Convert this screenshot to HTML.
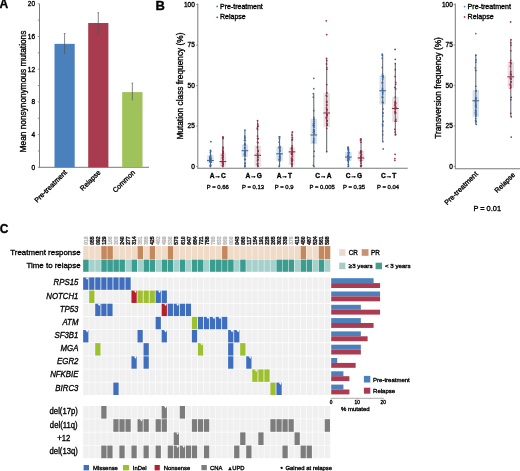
<!DOCTYPE html>
<html><head><meta charset="utf-8"><style>
html,body{margin:0;padding:0;background:#fff;width:520px;height:471px;overflow:hidden}
svg{display:block;font-family:"Liberation Sans", sans-serif}
text{stroke-width:0.33px;paint-order:stroke}
svg{filter:blur(0.3px)}
</style></head><body>
<svg width="520" height="471" viewBox="0 0 520 471" font-family='"Liberation Sans", sans-serif'>
<text x="-0.60" y="8.40" font-size="12" text-anchor="start" font-weight="bold" font-style="normal" fill="#000" stroke="#000" >A</text>
<line x1="39.50" y1="3.80" x2="39.50" y2="167.80" stroke="#7a7a7a" stroke-width="1" />
<line x1="39.50" y1="167.30" x2="149.00" y2="167.30" stroke="#7a7a7a" stroke-width="1" />
<line x1="37.80" y1="167.30" x2="39.50" y2="167.30" stroke="#7a7a7a" stroke-width="0.8" />
<text x="35.00" y="169.60" font-size="6.5" text-anchor="end" font-weight="normal" font-style="normal" fill="#000" stroke="#000" >0</text>
<line x1="37.80" y1="150.95" x2="39.50" y2="150.95" stroke="#7a7a7a" stroke-width="0.8" />
<line x1="37.80" y1="134.60" x2="39.50" y2="134.60" stroke="#7a7a7a" stroke-width="0.8" />
<text x="35.00" y="136.90" font-size="6.5" text-anchor="end" font-weight="normal" font-style="normal" fill="#000" stroke="#000" >4</text>
<line x1="37.80" y1="118.25" x2="39.50" y2="118.25" stroke="#7a7a7a" stroke-width="0.8" />
<line x1="37.80" y1="101.90" x2="39.50" y2="101.90" stroke="#7a7a7a" stroke-width="0.8" />
<text x="35.00" y="104.20" font-size="6.5" text-anchor="end" font-weight="normal" font-style="normal" fill="#000" stroke="#000" >8</text>
<line x1="37.80" y1="85.55" x2="39.50" y2="85.55" stroke="#7a7a7a" stroke-width="0.8" />
<line x1="37.80" y1="69.20" x2="39.50" y2="69.20" stroke="#7a7a7a" stroke-width="0.8" />
<text x="35.00" y="71.50" font-size="6.5" text-anchor="end" font-weight="normal" font-style="normal" fill="#000" stroke="#000" >12</text>
<line x1="37.80" y1="52.85" x2="39.50" y2="52.85" stroke="#7a7a7a" stroke-width="0.8" />
<line x1="37.80" y1="36.50" x2="39.50" y2="36.50" stroke="#7a7a7a" stroke-width="0.8" />
<text x="35.00" y="38.80" font-size="6.5" text-anchor="end" font-weight="normal" font-style="normal" fill="#000" stroke="#000" >16</text>
<line x1="37.80" y1="20.15" x2="39.50" y2="20.15" stroke="#7a7a7a" stroke-width="0.8" />
<line x1="37.80" y1="3.80" x2="39.50" y2="3.80" stroke="#7a7a7a" stroke-width="0.8" />
<text x="35.00" y="6.10" font-size="6.5" text-anchor="end" font-weight="normal" font-style="normal" fill="#000" stroke="#000" >20</text>
<text transform="translate(26.2,91.5) rotate(-90)" font-size="8.3" text-anchor="middle" stroke="#000">Mean nonsynonymous mutations</text>
<rect x="54.50" y="43.86" width="20.20" height="123.44" fill="#4a80bb" />
<line x1="64.60" y1="33.50" x2="64.60" y2="54.20" stroke="#555" stroke-width="0.7" />
<line x1="63.80" y1="33.50" x2="65.40" y2="33.50" stroke="#555" stroke-width="0.7" />
<rect x="88.20" y="23.01" width="20.20" height="144.29" fill="#a83c4e" />
<line x1="98.30" y1="12.70" x2="98.30" y2="34.20" stroke="#555" stroke-width="0.7" />
<line x1="97.50" y1="12.70" x2="99.10" y2="12.70" stroke="#555" stroke-width="0.7" />
<rect x="122.20" y="92.09" width="20.30" height="75.21" fill="#9fc25a" />
<line x1="132.35" y1="83.20" x2="132.35" y2="100.40" stroke="#555" stroke-width="0.7" />
<line x1="131.55" y1="83.20" x2="133.15" y2="83.20" stroke="#555" stroke-width="0.7" />
<text transform="translate(67.4,172.8) rotate(-45)" font-size="7" text-anchor="end" stroke="#000">Pre-treatment</text>
<text transform="translate(101,173.0) rotate(-45)" font-size="7" text-anchor="end" stroke="#000">Relapse</text>
<text transform="translate(135.5,173.0) rotate(-45)" font-size="7" text-anchor="end" stroke="#000">Common</text>
<text x="155.60" y="9.90" font-size="13" text-anchor="start" font-weight="bold" font-style="normal" fill="#000" stroke="#000" >B</text>
<line x1="197.80" y1="3.50" x2="197.80" y2="168.80" stroke="#7a7a7a" stroke-width="1" />
<line x1="197.80" y1="168.30" x2="407.70" y2="168.30" stroke="#7a7a7a" stroke-width="1.1" />
<line x1="196.10" y1="166.60" x2="197.80" y2="166.60" stroke="#7a7a7a" stroke-width="0.8" />
<text x="194.80" y="168.90" font-size="6.5" text-anchor="end" font-weight="normal" font-style="normal" fill="#000" stroke="#000" >0</text>
<line x1="196.10" y1="126.10" x2="197.80" y2="126.10" stroke="#7a7a7a" stroke-width="0.8" />
<text x="194.80" y="128.40" font-size="6.5" text-anchor="end" font-weight="normal" font-style="normal" fill="#000" stroke="#000" >25</text>
<line x1="196.10" y1="85.60" x2="197.80" y2="85.60" stroke="#7a7a7a" stroke-width="0.8" />
<text x="194.80" y="87.90" font-size="6.5" text-anchor="end" font-weight="normal" font-style="normal" fill="#000" stroke="#000" >50</text>
<line x1="196.10" y1="45.10" x2="197.80" y2="45.10" stroke="#7a7a7a" stroke-width="0.8" />
<text x="194.80" y="47.40" font-size="6.5" text-anchor="end" font-weight="normal" font-style="normal" fill="#000" stroke="#000" >75</text>
<line x1="196.10" y1="4.60" x2="197.80" y2="4.60" stroke="#7a7a7a" stroke-width="0.8" />
<text x="194.80" y="6.90" font-size="6.5" text-anchor="end" font-weight="normal" font-style="normal" fill="#000" stroke="#000" >100</text>
<text transform="translate(183.0,86.1) rotate(-90)" font-size="8.3" text-anchor="middle" stroke="#000">Mutation class frequency (%)</text>
<circle cx="217.2" cy="6.4" r="0.9" fill="#4a80bb"/>
<text x="220.00" y="9.30" font-size="7.0" text-anchor="start" font-weight="normal" font-style="normal" fill="#000" stroke="#000" >Pre-treatment</text>
<circle cx="217.2" cy="17.3" r="0.9" fill="#a83c4e"/>
<text x="220.00" y="19.30" font-size="7.0" text-anchor="start" font-weight="normal" font-style="normal" fill="#000" stroke="#000" >Relapse</text>
<rect x="207.20" y="155.26" width="6.40" height="7.61" fill="#d6e1ee" />
<line x1="210.40" y1="150.24" x2="210.40" y2="166.60" stroke="#5a5f6a" stroke-width="1.0" />
<circle cx="210.85" cy="141.65" r="0.85" fill="#3c68a0"/>
<circle cx="210.40" cy="150.24" r="0.85" fill="#3c68a0"/>
<circle cx="210.40" cy="166.60" r="0.85" fill="#3c68a0"/>
<circle cx="210.60" cy="161.73" r="0.85" fill="#3c68a0"/>
<circle cx="210.40" cy="165.41" r="0.85" fill="#3c68a0"/>
<circle cx="210.40" cy="160.62" r="0.85" fill="#3c68a0"/>
<circle cx="210.40" cy="159.01" r="0.85" fill="#3c68a0"/>
<circle cx="210.40" cy="159.57" r="0.85" fill="#3c68a0"/>
<circle cx="210.85" cy="162.18" r="0.85" fill="#3c68a0"/>
<circle cx="210.40" cy="156.58" r="0.85" fill="#3c68a0"/>
<circle cx="209.95" cy="161.17" r="0.85" fill="#3c68a0"/>
<circle cx="210.85" cy="151.09" r="0.85" fill="#3c68a0"/>
<circle cx="209.95" cy="160.11" r="0.85" fill="#3c68a0"/>
<circle cx="210.40" cy="165.84" r="0.85" fill="#3c68a0"/>
<circle cx="210.40" cy="161.86" r="0.85" fill="#3c68a0"/>
<circle cx="210.60" cy="161.98" r="0.85" fill="#3c68a0"/>
<circle cx="210.60" cy="156.66" r="0.85" fill="#3c68a0"/>
<circle cx="209.95" cy="158.45" r="0.85" fill="#3c68a0"/>
<circle cx="209.95" cy="160.51" r="0.85" fill="#3c68a0"/>
<circle cx="210.60" cy="165.57" r="0.85" fill="#3c68a0"/>
<circle cx="210.60" cy="161.31" r="0.85" fill="#3c68a0"/>
<circle cx="210.40" cy="159.60" r="0.85" fill="#3c68a0"/>
<circle cx="210.60" cy="158.42" r="0.85" fill="#3c68a0"/>
<circle cx="210.40" cy="160.59" r="0.85" fill="#3c68a0"/>
<circle cx="210.60" cy="155.16" r="0.85" fill="#3c68a0"/>
<circle cx="210.85" cy="158.50" r="0.85" fill="#3c68a0"/>
<circle cx="210.40" cy="152.28" r="0.85" fill="#3c68a0"/>
<circle cx="210.40" cy="161.89" r="0.85" fill="#3c68a0"/>
<circle cx="210.60" cy="164.67" r="0.85" fill="#3c68a0"/>
<circle cx="210.40" cy="157.11" r="0.85" fill="#3c68a0"/>
<circle cx="210.60" cy="159.15" r="0.85" fill="#3c68a0"/>
<circle cx="210.40" cy="157.79" r="0.85" fill="#3c68a0"/>
<circle cx="209.95" cy="157.22" r="0.85" fill="#3c68a0"/>
<line x1="207.00" y1="160.44" x2="213.80" y2="160.44" stroke="#44648e" stroke-width="1.0" />
<rect x="219.70" y="153.32" width="6.40" height="13.28" fill="#e9e0e2" />
<line x1="222.90" y1="136.95" x2="222.90" y2="166.60" stroke="#5a5f6a" stroke-width="1.0" />
<circle cx="222.90" cy="136.95" r="0.85" fill="#952c46"/>
<circle cx="222.90" cy="166.60" r="0.85" fill="#952c46"/>
<circle cx="222.90" cy="156.06" r="0.85" fill="#952c46"/>
<circle cx="222.90" cy="151.96" r="0.85" fill="#952c46"/>
<circle cx="222.45" cy="162.78" r="0.85" fill="#952c46"/>
<circle cx="222.45" cy="154.80" r="0.85" fill="#952c46"/>
<circle cx="223.35" cy="151.88" r="0.85" fill="#952c46"/>
<circle cx="222.90" cy="161.26" r="0.85" fill="#952c46"/>
<circle cx="222.90" cy="164.78" r="0.85" fill="#952c46"/>
<circle cx="222.90" cy="159.29" r="0.85" fill="#952c46"/>
<circle cx="222.90" cy="137.36" r="0.85" fill="#952c46"/>
<circle cx="222.90" cy="155.32" r="0.85" fill="#952c46"/>
<circle cx="222.45" cy="165.50" r="0.85" fill="#952c46"/>
<circle cx="222.70" cy="157.85" r="0.85" fill="#952c46"/>
<circle cx="222.45" cy="155.56" r="0.85" fill="#952c46"/>
<circle cx="223.10" cy="162.85" r="0.85" fill="#952c46"/>
<circle cx="222.90" cy="159.50" r="0.85" fill="#952c46"/>
<circle cx="223.10" cy="157.15" r="0.85" fill="#952c46"/>
<circle cx="222.90" cy="155.19" r="0.85" fill="#952c46"/>
<circle cx="222.90" cy="147.18" r="0.85" fill="#952c46"/>
<circle cx="223.35" cy="153.06" r="0.85" fill="#952c46"/>
<circle cx="223.10" cy="138.38" r="0.85" fill="#952c46"/>
<circle cx="222.70" cy="150.02" r="0.85" fill="#952c46"/>
<circle cx="222.90" cy="161.36" r="0.85" fill="#952c46"/>
<circle cx="222.45" cy="161.28" r="0.85" fill="#952c46"/>
<circle cx="222.70" cy="153.52" r="0.85" fill="#952c46"/>
<circle cx="222.90" cy="165.14" r="0.85" fill="#952c46"/>
<circle cx="222.90" cy="163.56" r="0.85" fill="#952c46"/>
<circle cx="222.70" cy="150.69" r="0.85" fill="#952c46"/>
<circle cx="223.10" cy="148.41" r="0.85" fill="#952c46"/>
<circle cx="222.90" cy="163.84" r="0.85" fill="#952c46"/>
<circle cx="222.45" cy="158.17" r="0.85" fill="#952c46"/>
<line x1="219.50" y1="161.58" x2="226.30" y2="161.58" stroke="#862a40" stroke-width="1.0" />
<rect x="241.70" y="144.57" width="6.40" height="12.47" fill="#d6e1ee" />
<line x1="244.90" y1="130.15" x2="244.90" y2="166.60" stroke="#5a5f6a" stroke-width="1.0" />
<circle cx="244.90" cy="130.15" r="0.85" fill="#3c68a0"/>
<circle cx="244.90" cy="166.60" r="0.85" fill="#3c68a0"/>
<circle cx="245.35" cy="155.73" r="0.85" fill="#3c68a0"/>
<circle cx="245.10" cy="163.28" r="0.85" fill="#3c68a0"/>
<circle cx="244.70" cy="147.70" r="0.85" fill="#3c68a0"/>
<circle cx="244.90" cy="153.63" r="0.85" fill="#3c68a0"/>
<circle cx="245.35" cy="150.29" r="0.85" fill="#3c68a0"/>
<circle cx="244.90" cy="143.40" r="0.85" fill="#3c68a0"/>
<circle cx="244.90" cy="137.86" r="0.85" fill="#3c68a0"/>
<circle cx="245.10" cy="159.49" r="0.85" fill="#3c68a0"/>
<circle cx="244.90" cy="152.04" r="0.85" fill="#3c68a0"/>
<circle cx="244.70" cy="159.31" r="0.85" fill="#3c68a0"/>
<circle cx="244.90" cy="147.92" r="0.85" fill="#3c68a0"/>
<circle cx="244.90" cy="137.80" r="0.85" fill="#3c68a0"/>
<circle cx="244.70" cy="154.63" r="0.85" fill="#3c68a0"/>
<circle cx="244.45" cy="154.05" r="0.85" fill="#3c68a0"/>
<circle cx="244.45" cy="140.24" r="0.85" fill="#3c68a0"/>
<circle cx="245.35" cy="144.89" r="0.85" fill="#3c68a0"/>
<circle cx="245.10" cy="155.77" r="0.85" fill="#3c68a0"/>
<circle cx="245.10" cy="152.83" r="0.85" fill="#3c68a0"/>
<circle cx="244.45" cy="144.75" r="0.85" fill="#3c68a0"/>
<circle cx="244.90" cy="166.53" r="0.85" fill="#3c68a0"/>
<circle cx="245.10" cy="154.06" r="0.85" fill="#3c68a0"/>
<circle cx="244.70" cy="136.18" r="0.85" fill="#3c68a0"/>
<circle cx="244.90" cy="152.20" r="0.85" fill="#3c68a0"/>
<circle cx="245.35" cy="159.33" r="0.85" fill="#3c68a0"/>
<circle cx="244.70" cy="150.78" r="0.85" fill="#3c68a0"/>
<circle cx="245.35" cy="163.44" r="0.85" fill="#3c68a0"/>
<circle cx="245.35" cy="140.29" r="0.85" fill="#3c68a0"/>
<circle cx="244.70" cy="147.77" r="0.85" fill="#3c68a0"/>
<circle cx="244.45" cy="155.06" r="0.85" fill="#3c68a0"/>
<circle cx="244.90" cy="165.60" r="0.85" fill="#3c68a0"/>
<line x1="241.50" y1="150.72" x2="248.30" y2="150.72" stroke="#44648e" stroke-width="1.0" />
<rect x="254.50" y="145.54" width="6.40" height="21.06" fill="#e9e0e2" />
<line x1="257.70" y1="120.59" x2="257.70" y2="166.60" stroke="#5a5f6a" stroke-width="1.0" />
<circle cx="257.50" cy="120.59" r="0.85" fill="#952c46"/>
<circle cx="257.90" cy="166.60" r="0.85" fill="#952c46"/>
<circle cx="257.70" cy="156.05" r="0.85" fill="#952c46"/>
<circle cx="258.15" cy="151.60" r="0.85" fill="#952c46"/>
<circle cx="257.25" cy="128.22" r="0.85" fill="#952c46"/>
<circle cx="258.15" cy="151.02" r="0.85" fill="#952c46"/>
<circle cx="257.50" cy="136.12" r="0.85" fill="#952c46"/>
<circle cx="257.90" cy="142.82" r="0.85" fill="#952c46"/>
<circle cx="257.90" cy="126.20" r="0.85" fill="#952c46"/>
<circle cx="257.90" cy="163.40" r="0.85" fill="#952c46"/>
<circle cx="257.70" cy="126.44" r="0.85" fill="#952c46"/>
<circle cx="257.50" cy="138.60" r="0.85" fill="#952c46"/>
<circle cx="257.70" cy="159.71" r="0.85" fill="#952c46"/>
<circle cx="257.50" cy="153.56" r="0.85" fill="#952c46"/>
<circle cx="257.70" cy="165.30" r="0.85" fill="#952c46"/>
<circle cx="257.50" cy="142.18" r="0.85" fill="#952c46"/>
<circle cx="257.90" cy="150.25" r="0.85" fill="#952c46"/>
<circle cx="257.25" cy="163.99" r="0.85" fill="#952c46"/>
<circle cx="257.70" cy="165.71" r="0.85" fill="#952c46"/>
<circle cx="257.70" cy="157.08" r="0.85" fill="#952c46"/>
<circle cx="257.50" cy="147.77" r="0.85" fill="#952c46"/>
<circle cx="257.90" cy="159.74" r="0.85" fill="#952c46"/>
<circle cx="258.15" cy="138.71" r="0.85" fill="#952c46"/>
<circle cx="257.50" cy="160.76" r="0.85" fill="#952c46"/>
<circle cx="257.50" cy="129.45" r="0.85" fill="#952c46"/>
<circle cx="257.90" cy="155.21" r="0.85" fill="#952c46"/>
<circle cx="257.70" cy="126.30" r="0.85" fill="#952c46"/>
<circle cx="257.70" cy="124.14" r="0.85" fill="#952c46"/>
<circle cx="257.70" cy="157.28" r="0.85" fill="#952c46"/>
<circle cx="257.70" cy="157.83" r="0.85" fill="#952c46"/>
<circle cx="257.70" cy="159.95" r="0.85" fill="#952c46"/>
<circle cx="257.50" cy="146.89" r="0.85" fill="#952c46"/>
<line x1="254.30" y1="155.26" x2="261.10" y2="155.26" stroke="#862a40" stroke-width="1.0" />
<rect x="276.40" y="146.51" width="6.40" height="14.42" fill="#d6e1ee" />
<line x1="279.60" y1="136.79" x2="279.60" y2="166.60" stroke="#5a5f6a" stroke-width="1.0" />
<circle cx="279.15" cy="136.79" r="0.85" fill="#3c68a0"/>
<circle cx="279.15" cy="166.60" r="0.85" fill="#3c68a0"/>
<circle cx="279.15" cy="159.60" r="0.85" fill="#3c68a0"/>
<circle cx="279.80" cy="156.06" r="0.85" fill="#3c68a0"/>
<circle cx="279.60" cy="150.79" r="0.85" fill="#3c68a0"/>
<circle cx="279.60" cy="153.47" r="0.85" fill="#3c68a0"/>
<circle cx="279.40" cy="147.08" r="0.85" fill="#3c68a0"/>
<circle cx="279.60" cy="147.69" r="0.85" fill="#3c68a0"/>
<circle cx="279.60" cy="148.29" r="0.85" fill="#3c68a0"/>
<circle cx="279.40" cy="157.01" r="0.85" fill="#3c68a0"/>
<circle cx="279.60" cy="161.19" r="0.85" fill="#3c68a0"/>
<circle cx="279.15" cy="142.16" r="0.85" fill="#3c68a0"/>
<circle cx="279.80" cy="146.45" r="0.85" fill="#3c68a0"/>
<circle cx="280.05" cy="154.50" r="0.85" fill="#3c68a0"/>
<circle cx="279.80" cy="151.26" r="0.85" fill="#3c68a0"/>
<circle cx="279.60" cy="156.21" r="0.85" fill="#3c68a0"/>
<circle cx="279.80" cy="149.40" r="0.85" fill="#3c68a0"/>
<circle cx="279.60" cy="148.02" r="0.85" fill="#3c68a0"/>
<circle cx="279.60" cy="160.69" r="0.85" fill="#3c68a0"/>
<circle cx="280.05" cy="157.17" r="0.85" fill="#3c68a0"/>
<circle cx="279.60" cy="159.97" r="0.85" fill="#3c68a0"/>
<circle cx="279.60" cy="159.18" r="0.85" fill="#3c68a0"/>
<circle cx="279.60" cy="146.59" r="0.85" fill="#3c68a0"/>
<circle cx="279.80" cy="147.73" r="0.85" fill="#3c68a0"/>
<circle cx="279.40" cy="165.31" r="0.85" fill="#3c68a0"/>
<circle cx="279.40" cy="138.64" r="0.85" fill="#3c68a0"/>
<circle cx="279.60" cy="158.79" r="0.85" fill="#3c68a0"/>
<circle cx="279.40" cy="147.49" r="0.85" fill="#3c68a0"/>
<circle cx="280.05" cy="150.77" r="0.85" fill="#3c68a0"/>
<circle cx="279.80" cy="154.50" r="0.85" fill="#3c68a0"/>
<circle cx="279.80" cy="158.54" r="0.85" fill="#3c68a0"/>
<circle cx="279.80" cy="136.96" r="0.85" fill="#3c68a0"/>
<line x1="276.20" y1="153.80" x2="283.00" y2="153.80" stroke="#44648e" stroke-width="1.0" />
<rect x="288.80" y="147.48" width="6.40" height="17.33" fill="#e9e0e2" />
<line x1="292.00" y1="131.93" x2="292.00" y2="166.60" stroke="#5a5f6a" stroke-width="1.0" />
<circle cx="292.45" cy="131.93" r="0.85" fill="#952c46"/>
<circle cx="292.00" cy="166.60" r="0.85" fill="#952c46"/>
<circle cx="292.00" cy="147.67" r="0.85" fill="#952c46"/>
<circle cx="292.45" cy="137.58" r="0.85" fill="#952c46"/>
<circle cx="292.45" cy="153.98" r="0.85" fill="#952c46"/>
<circle cx="292.45" cy="151.67" r="0.85" fill="#952c46"/>
<circle cx="291.55" cy="153.29" r="0.85" fill="#952c46"/>
<circle cx="292.45" cy="156.05" r="0.85" fill="#952c46"/>
<circle cx="292.20" cy="145.84" r="0.85" fill="#952c46"/>
<circle cx="292.00" cy="165.03" r="0.85" fill="#952c46"/>
<circle cx="292.45" cy="160.15" r="0.85" fill="#952c46"/>
<circle cx="292.20" cy="158.51" r="0.85" fill="#952c46"/>
<circle cx="292.20" cy="147.75" r="0.85" fill="#952c46"/>
<circle cx="292.20" cy="164.22" r="0.85" fill="#952c46"/>
<circle cx="292.20" cy="159.05" r="0.85" fill="#952c46"/>
<circle cx="291.80" cy="159.01" r="0.85" fill="#952c46"/>
<circle cx="291.55" cy="159.98" r="0.85" fill="#952c46"/>
<circle cx="291.55" cy="158.00" r="0.85" fill="#952c46"/>
<circle cx="291.55" cy="163.45" r="0.85" fill="#952c46"/>
<circle cx="291.80" cy="161.61" r="0.85" fill="#952c46"/>
<circle cx="292.20" cy="152.94" r="0.85" fill="#952c46"/>
<circle cx="292.00" cy="153.90" r="0.85" fill="#952c46"/>
<circle cx="291.55" cy="148.22" r="0.85" fill="#952c46"/>
<circle cx="292.00" cy="161.22" r="0.85" fill="#952c46"/>
<circle cx="292.45" cy="139.42" r="0.85" fill="#952c46"/>
<circle cx="292.00" cy="140.10" r="0.85" fill="#952c46"/>
<circle cx="292.00" cy="149.47" r="0.85" fill="#952c46"/>
<circle cx="291.55" cy="154.09" r="0.85" fill="#952c46"/>
<circle cx="292.20" cy="150.52" r="0.85" fill="#952c46"/>
<circle cx="291.55" cy="148.82" r="0.85" fill="#952c46"/>
<circle cx="292.20" cy="152.67" r="0.85" fill="#952c46"/>
<circle cx="292.00" cy="135.06" r="0.85" fill="#952c46"/>
<line x1="288.60" y1="151.86" x2="295.40" y2="151.86" stroke="#862a40" stroke-width="1.0" />
<rect x="310.60" y="118.97" width="6.40" height="24.95" fill="#d6e1ee" />
<line x1="313.80" y1="93.70" x2="313.80" y2="166.60" stroke="#5a5f6a" stroke-width="1.0" />
<circle cx="313.80" cy="78.31" r="0.85" fill="#3c68a0"/>
<circle cx="313.80" cy="88.68" r="0.85" fill="#3c68a0"/>
<circle cx="313.35" cy="93.70" r="0.85" fill="#3c68a0"/>
<circle cx="314.00" cy="166.60" r="0.85" fill="#3c68a0"/>
<circle cx="313.80" cy="130.93" r="0.85" fill="#3c68a0"/>
<circle cx="313.60" cy="124.02" r="0.85" fill="#3c68a0"/>
<circle cx="313.80" cy="129.93" r="0.85" fill="#3c68a0"/>
<circle cx="313.80" cy="118.54" r="0.85" fill="#3c68a0"/>
<circle cx="313.80" cy="125.54" r="0.85" fill="#3c68a0"/>
<circle cx="313.35" cy="142.06" r="0.85" fill="#3c68a0"/>
<circle cx="313.60" cy="125.72" r="0.85" fill="#3c68a0"/>
<circle cx="313.35" cy="125.46" r="0.85" fill="#3c68a0"/>
<circle cx="313.80" cy="130.59" r="0.85" fill="#3c68a0"/>
<circle cx="314.00" cy="131.97" r="0.85" fill="#3c68a0"/>
<circle cx="313.80" cy="110.69" r="0.85" fill="#3c68a0"/>
<circle cx="313.80" cy="119.74" r="0.85" fill="#3c68a0"/>
<circle cx="313.80" cy="140.24" r="0.85" fill="#3c68a0"/>
<circle cx="314.00" cy="125.38" r="0.85" fill="#3c68a0"/>
<circle cx="313.60" cy="129.76" r="0.85" fill="#3c68a0"/>
<circle cx="313.80" cy="142.41" r="0.85" fill="#3c68a0"/>
<circle cx="313.80" cy="127.15" r="0.85" fill="#3c68a0"/>
<circle cx="313.80" cy="117.34" r="0.85" fill="#3c68a0"/>
<circle cx="313.80" cy="131.03" r="0.85" fill="#3c68a0"/>
<circle cx="313.35" cy="132.29" r="0.85" fill="#3c68a0"/>
<circle cx="314.25" cy="121.62" r="0.85" fill="#3c68a0"/>
<circle cx="313.80" cy="119.52" r="0.85" fill="#3c68a0"/>
<circle cx="313.35" cy="165.32" r="0.85" fill="#3c68a0"/>
<circle cx="313.80" cy="123.47" r="0.85" fill="#3c68a0"/>
<circle cx="314.25" cy="133.84" r="0.85" fill="#3c68a0"/>
<circle cx="313.80" cy="138.68" r="0.85" fill="#3c68a0"/>
<circle cx="314.25" cy="151.24" r="0.85" fill="#3c68a0"/>
<circle cx="313.80" cy="156.27" r="0.85" fill="#3c68a0"/>
<circle cx="313.35" cy="97.15" r="0.85" fill="#3c68a0"/>
<circle cx="313.60" cy="123.46" r="0.85" fill="#3c68a0"/>
<line x1="310.40" y1="135.01" x2="317.20" y2="135.01" stroke="#44648e" stroke-width="1.0" />
<rect x="323.50" y="93.05" width="6.40" height="34.02" fill="#e9e0e2" />
<line x1="326.70" y1="58.38" x2="326.70" y2="151.70" stroke="#5a5f6a" stroke-width="1.0" />
<circle cx="326.25" cy="20.80" r="0.85" fill="#952c46"/>
<circle cx="326.70" cy="34.57" r="0.85" fill="#952c46"/>
<circle cx="326.50" cy="58.38" r="0.85" fill="#952c46"/>
<circle cx="326.70" cy="151.70" r="0.85" fill="#952c46"/>
<circle cx="326.70" cy="67.57" r="0.85" fill="#952c46"/>
<circle cx="327.15" cy="114.41" r="0.85" fill="#952c46"/>
<circle cx="326.70" cy="93.09" r="0.85" fill="#952c46"/>
<circle cx="326.50" cy="118.04" r="0.85" fill="#952c46"/>
<circle cx="326.25" cy="117.71" r="0.85" fill="#952c46"/>
<circle cx="326.90" cy="123.61" r="0.85" fill="#952c46"/>
<circle cx="327.15" cy="125.04" r="0.85" fill="#952c46"/>
<circle cx="326.70" cy="128.43" r="0.85" fill="#952c46"/>
<circle cx="326.70" cy="109.69" r="0.85" fill="#952c46"/>
<circle cx="326.70" cy="114.37" r="0.85" fill="#952c46"/>
<circle cx="326.90" cy="69.18" r="0.85" fill="#952c46"/>
<circle cx="326.70" cy="92.83" r="0.85" fill="#952c46"/>
<circle cx="326.50" cy="63.92" r="0.85" fill="#952c46"/>
<circle cx="326.70" cy="84.55" r="0.85" fill="#952c46"/>
<circle cx="326.70" cy="102.16" r="0.85" fill="#952c46"/>
<circle cx="326.70" cy="101.47" r="0.85" fill="#952c46"/>
<circle cx="327.15" cy="124.99" r="0.85" fill="#952c46"/>
<circle cx="326.25" cy="95.54" r="0.85" fill="#952c46"/>
<circle cx="326.70" cy="111.01" r="0.85" fill="#952c46"/>
<circle cx="326.70" cy="116.94" r="0.85" fill="#952c46"/>
<circle cx="326.70" cy="60.60" r="0.85" fill="#952c46"/>
<circle cx="326.70" cy="104.76" r="0.85" fill="#952c46"/>
<circle cx="326.50" cy="108.11" r="0.85" fill="#952c46"/>
<circle cx="326.90" cy="121.38" r="0.85" fill="#952c46"/>
<circle cx="326.70" cy="120.00" r="0.85" fill="#952c46"/>
<circle cx="326.70" cy="105.31" r="0.85" fill="#952c46"/>
<circle cx="326.90" cy="96.24" r="0.85" fill="#952c46"/>
<circle cx="327.15" cy="109.71" r="0.85" fill="#952c46"/>
<circle cx="327.15" cy="120.53" r="0.85" fill="#952c46"/>
<circle cx="327.15" cy="115.44" r="0.85" fill="#952c46"/>
<line x1="323.30" y1="112.98" x2="330.10" y2="112.98" stroke="#862a40" stroke-width="1.0" />
<rect x="345.20" y="152.02" width="6.40" height="8.91" fill="#d6e1ee" />
<line x1="348.40" y1="147.00" x2="348.40" y2="166.60" stroke="#5a5f6a" stroke-width="1.0" />
<circle cx="347.95" cy="147.00" r="0.85" fill="#3c68a0"/>
<circle cx="348.20" cy="166.60" r="0.85" fill="#3c68a0"/>
<circle cx="348.40" cy="158.52" r="0.85" fill="#3c68a0"/>
<circle cx="348.60" cy="157.37" r="0.85" fill="#3c68a0"/>
<circle cx="348.60" cy="152.43" r="0.85" fill="#3c68a0"/>
<circle cx="348.40" cy="149.49" r="0.85" fill="#3c68a0"/>
<circle cx="347.95" cy="160.64" r="0.85" fill="#3c68a0"/>
<circle cx="348.40" cy="149.04" r="0.85" fill="#3c68a0"/>
<circle cx="348.20" cy="155.70" r="0.85" fill="#3c68a0"/>
<circle cx="348.60" cy="157.44" r="0.85" fill="#3c68a0"/>
<circle cx="348.40" cy="150.42" r="0.85" fill="#3c68a0"/>
<circle cx="348.40" cy="147.54" r="0.85" fill="#3c68a0"/>
<circle cx="348.20" cy="159.96" r="0.85" fill="#3c68a0"/>
<circle cx="348.40" cy="156.28" r="0.85" fill="#3c68a0"/>
<circle cx="347.95" cy="148.14" r="0.85" fill="#3c68a0"/>
<circle cx="348.60" cy="153.91" r="0.85" fill="#3c68a0"/>
<circle cx="348.40" cy="157.64" r="0.85" fill="#3c68a0"/>
<circle cx="348.60" cy="165.82" r="0.85" fill="#3c68a0"/>
<circle cx="348.40" cy="162.04" r="0.85" fill="#3c68a0"/>
<circle cx="348.40" cy="153.95" r="0.85" fill="#3c68a0"/>
<circle cx="348.60" cy="159.79" r="0.85" fill="#3c68a0"/>
<circle cx="348.40" cy="155.26" r="0.85" fill="#3c68a0"/>
<circle cx="348.20" cy="164.40" r="0.85" fill="#3c68a0"/>
<circle cx="347.95" cy="156.26" r="0.85" fill="#3c68a0"/>
<circle cx="348.85" cy="158.99" r="0.85" fill="#3c68a0"/>
<circle cx="348.40" cy="155.57" r="0.85" fill="#3c68a0"/>
<circle cx="348.60" cy="158.24" r="0.85" fill="#3c68a0"/>
<circle cx="348.85" cy="152.39" r="0.85" fill="#3c68a0"/>
<circle cx="348.40" cy="149.28" r="0.85" fill="#3c68a0"/>
<circle cx="347.95" cy="158.84" r="0.85" fill="#3c68a0"/>
<circle cx="348.20" cy="152.37" r="0.85" fill="#3c68a0"/>
<circle cx="348.40" cy="160.57" r="0.85" fill="#3c68a0"/>
<line x1="345.00" y1="157.04" x2="351.80" y2="157.04" stroke="#44648e" stroke-width="1.0" />
<rect x="357.80" y="150.72" width="6.40" height="10.21" fill="#e9e0e2" />
<line x1="361.00" y1="139.06" x2="361.00" y2="166.60" stroke="#5a5f6a" stroke-width="1.0" />
<circle cx="360.55" cy="139.06" r="0.85" fill="#952c46"/>
<circle cx="361.00" cy="166.60" r="0.85" fill="#952c46"/>
<circle cx="360.55" cy="158.02" r="0.85" fill="#952c46"/>
<circle cx="361.45" cy="160.24" r="0.85" fill="#952c46"/>
<circle cx="360.55" cy="153.17" r="0.85" fill="#952c46"/>
<circle cx="361.00" cy="151.21" r="0.85" fill="#952c46"/>
<circle cx="360.80" cy="159.02" r="0.85" fill="#952c46"/>
<circle cx="361.20" cy="156.67" r="0.85" fill="#952c46"/>
<circle cx="360.55" cy="140.47" r="0.85" fill="#952c46"/>
<circle cx="361.00" cy="156.91" r="0.85" fill="#952c46"/>
<circle cx="361.00" cy="150.99" r="0.85" fill="#952c46"/>
<circle cx="361.00" cy="160.40" r="0.85" fill="#952c46"/>
<circle cx="361.00" cy="156.92" r="0.85" fill="#952c46"/>
<circle cx="361.00" cy="142.27" r="0.85" fill="#952c46"/>
<circle cx="361.00" cy="139.13" r="0.85" fill="#952c46"/>
<circle cx="360.55" cy="157.53" r="0.85" fill="#952c46"/>
<circle cx="361.00" cy="151.38" r="0.85" fill="#952c46"/>
<circle cx="361.20" cy="165.72" r="0.85" fill="#952c46"/>
<circle cx="361.20" cy="156.17" r="0.85" fill="#952c46"/>
<circle cx="361.20" cy="157.54" r="0.85" fill="#952c46"/>
<circle cx="361.00" cy="160.90" r="0.85" fill="#952c46"/>
<circle cx="361.00" cy="157.34" r="0.85" fill="#952c46"/>
<circle cx="361.00" cy="163.19" r="0.85" fill="#952c46"/>
<circle cx="360.55" cy="160.89" r="0.85" fill="#952c46"/>
<circle cx="361.20" cy="152.55" r="0.85" fill="#952c46"/>
<circle cx="361.45" cy="154.69" r="0.85" fill="#952c46"/>
<circle cx="361.00" cy="156.10" r="0.85" fill="#952c46"/>
<circle cx="361.45" cy="151.55" r="0.85" fill="#952c46"/>
<circle cx="361.20" cy="157.21" r="0.85" fill="#952c46"/>
<circle cx="360.55" cy="165.77" r="0.85" fill="#952c46"/>
<circle cx="360.55" cy="152.64" r="0.85" fill="#952c46"/>
<circle cx="361.45" cy="165.48" r="0.85" fill="#952c46"/>
<line x1="357.60" y1="158.01" x2="364.40" y2="158.01" stroke="#862a40" stroke-width="1.0" />
<rect x="379.50" y="75.56" width="6.40" height="28.84" fill="#d6e1ee" />
<line x1="382.70" y1="54.17" x2="382.70" y2="141.65" stroke="#5a5f6a" stroke-width="1.0" />
<circle cx="383.15" cy="148.94" r="0.85" fill="#3c68a0"/>
<circle cx="382.25" cy="54.17" r="0.85" fill="#3c68a0"/>
<circle cx="382.90" cy="141.65" r="0.85" fill="#3c68a0"/>
<circle cx="382.70" cy="90.69" r="0.85" fill="#3c68a0"/>
<circle cx="382.25" cy="58.20" r="0.85" fill="#3c68a0"/>
<circle cx="382.25" cy="97.15" r="0.85" fill="#3c68a0"/>
<circle cx="382.25" cy="90.16" r="0.85" fill="#3c68a0"/>
<circle cx="382.70" cy="125.65" r="0.85" fill="#3c68a0"/>
<circle cx="383.15" cy="77.05" r="0.85" fill="#3c68a0"/>
<circle cx="382.50" cy="74.05" r="0.85" fill="#3c68a0"/>
<circle cx="383.15" cy="112.98" r="0.85" fill="#3c68a0"/>
<circle cx="382.70" cy="93.96" r="0.85" fill="#3c68a0"/>
<circle cx="382.70" cy="134.74" r="0.85" fill="#3c68a0"/>
<circle cx="382.25" cy="82.68" r="0.85" fill="#3c68a0"/>
<circle cx="382.70" cy="102.53" r="0.85" fill="#3c68a0"/>
<circle cx="382.50" cy="88.46" r="0.85" fill="#3c68a0"/>
<circle cx="382.25" cy="76.13" r="0.85" fill="#3c68a0"/>
<circle cx="382.25" cy="55.24" r="0.85" fill="#3c68a0"/>
<circle cx="382.50" cy="101.97" r="0.85" fill="#3c68a0"/>
<circle cx="382.70" cy="90.02" r="0.85" fill="#3c68a0"/>
<circle cx="383.15" cy="102.55" r="0.85" fill="#3c68a0"/>
<circle cx="382.70" cy="92.37" r="0.85" fill="#3c68a0"/>
<circle cx="382.50" cy="82.68" r="0.85" fill="#3c68a0"/>
<circle cx="382.25" cy="67.56" r="0.85" fill="#3c68a0"/>
<circle cx="382.70" cy="131.05" r="0.85" fill="#3c68a0"/>
<circle cx="382.70" cy="115.95" r="0.85" fill="#3c68a0"/>
<circle cx="383.15" cy="109.02" r="0.85" fill="#3c68a0"/>
<circle cx="382.50" cy="124.23" r="0.85" fill="#3c68a0"/>
<circle cx="382.70" cy="97.32" r="0.85" fill="#3c68a0"/>
<circle cx="382.70" cy="78.90" r="0.85" fill="#3c68a0"/>
<circle cx="382.70" cy="113.10" r="0.85" fill="#3c68a0"/>
<circle cx="383.15" cy="75.77" r="0.85" fill="#3c68a0"/>
<circle cx="383.15" cy="121.41" r="0.85" fill="#3c68a0"/>
<line x1="379.30" y1="90.78" x2="386.10" y2="90.78" stroke="#44648e" stroke-width="1.0" />
<rect x="392.10" y="96.78" width="6.40" height="25.43" fill="#e9e0e2" />
<line x1="395.30" y1="63.57" x2="395.30" y2="134.85" stroke="#5a5f6a" stroke-width="1.0" />
<circle cx="395.10" cy="49.47" r="0.85" fill="#952c46"/>
<circle cx="395.30" cy="59.36" r="0.85" fill="#952c46"/>
<circle cx="395.10" cy="154.29" r="0.85" fill="#952c46"/>
<circle cx="394.85" cy="158.50" r="0.85" fill="#952c46"/>
<circle cx="394.85" cy="160.28" r="0.85" fill="#952c46"/>
<circle cx="395.30" cy="63.57" r="0.85" fill="#952c46"/>
<circle cx="395.30" cy="134.85" r="0.85" fill="#952c46"/>
<circle cx="395.75" cy="134.40" r="0.85" fill="#952c46"/>
<circle cx="395.75" cy="84.26" r="0.85" fill="#952c46"/>
<circle cx="395.75" cy="121.26" r="0.85" fill="#952c46"/>
<circle cx="395.75" cy="121.09" r="0.85" fill="#952c46"/>
<circle cx="395.10" cy="132.12" r="0.85" fill="#952c46"/>
<circle cx="395.30" cy="69.70" r="0.85" fill="#952c46"/>
<circle cx="395.10" cy="76.48" r="0.85" fill="#952c46"/>
<circle cx="395.75" cy="112.76" r="0.85" fill="#952c46"/>
<circle cx="394.85" cy="129.29" r="0.85" fill="#952c46"/>
<circle cx="395.30" cy="109.61" r="0.85" fill="#952c46"/>
<circle cx="395.30" cy="111.83" r="0.85" fill="#952c46"/>
<circle cx="394.85" cy="87.52" r="0.85" fill="#952c46"/>
<circle cx="395.30" cy="108.63" r="0.85" fill="#952c46"/>
<circle cx="395.50" cy="106.49" r="0.85" fill="#952c46"/>
<circle cx="395.30" cy="97.08" r="0.85" fill="#952c46"/>
<circle cx="394.85" cy="105.06" r="0.85" fill="#952c46"/>
<circle cx="395.50" cy="103.26" r="0.85" fill="#952c46"/>
<circle cx="395.30" cy="105.33" r="0.85" fill="#952c46"/>
<circle cx="395.50" cy="102.71" r="0.85" fill="#952c46"/>
<circle cx="395.75" cy="88.91" r="0.85" fill="#952c46"/>
<circle cx="395.10" cy="111.91" r="0.85" fill="#952c46"/>
<circle cx="395.50" cy="103.90" r="0.85" fill="#952c46"/>
<circle cx="395.75" cy="119.32" r="0.85" fill="#952c46"/>
<circle cx="395.75" cy="107.52" r="0.85" fill="#952c46"/>
<circle cx="395.10" cy="102.55" r="0.85" fill="#952c46"/>
<circle cx="395.30" cy="120.90" r="0.85" fill="#952c46"/>
<circle cx="395.30" cy="101.70" r="0.85" fill="#952c46"/>
<circle cx="395.30" cy="107.64" r="0.85" fill="#952c46"/>
<circle cx="395.75" cy="82.30" r="0.85" fill="#952c46"/>
<circle cx="395.10" cy="113.36" r="0.85" fill="#952c46"/>
<line x1="391.90" y1="108.44" x2="398.70" y2="108.44" stroke="#862a40" stroke-width="1.0" />
<text x="217.80" y="178.00" font-size="6.6" text-anchor="middle" font-weight="bold" font-style="normal" fill="#000" stroke="#000" >A→C</text>
<text x="217.70" y="188.50" font-size="5.9" text-anchor="middle" font-weight="normal" font-style="normal" fill="#000" stroke="#000" >P = 0.66</text>
<text x="253.70" y="178.00" font-size="6.6" text-anchor="middle" font-weight="bold" font-style="normal" fill="#000" stroke="#000" >A→G</text>
<text x="253.00" y="188.50" font-size="5.9" text-anchor="middle" font-weight="normal" font-style="normal" fill="#000" stroke="#000" >P = 0.13</text>
<text x="284.40" y="178.00" font-size="6.6" text-anchor="middle" font-weight="bold" font-style="normal" fill="#000" stroke="#000" >A→T</text>
<text x="284.20" y="188.50" font-size="5.9" text-anchor="middle" font-weight="normal" font-style="normal" fill="#000" stroke="#000" >P = 0.9</text>
<text x="323.40" y="178.00" font-size="6.6" text-anchor="middle" font-weight="bold" font-style="normal" fill="#000" stroke="#000" >C→A</text>
<text x="322.20" y="188.50" font-size="5.9" text-anchor="middle" font-weight="normal" font-style="normal" fill="#000" stroke="#000" >P = 0.005</text>
<text x="354.00" y="178.00" font-size="6.6" text-anchor="middle" font-weight="bold" font-style="normal" fill="#000" stroke="#000" >C→G</text>
<text x="354.00" y="188.50" font-size="5.9" text-anchor="middle" font-weight="normal" font-style="normal" fill="#000" stroke="#000" >P = 0.35</text>
<text x="388.70" y="178.00" font-size="6.6" text-anchor="middle" font-weight="bold" font-style="normal" fill="#000" stroke="#000" >C→T</text>
<text x="388.10" y="188.50" font-size="5.9" text-anchor="middle" font-weight="normal" font-style="normal" fill="#000" stroke="#000" >P = 0.04</text>
<line x1="455.30" y1="3.50" x2="455.30" y2="169.20" stroke="#7a7a7a" stroke-width="1" />
<line x1="455.30" y1="168.70" x2="520.00" y2="168.70" stroke="#7a7a7a" stroke-width="1.1" />
<line x1="453.60" y1="166.40" x2="455.30" y2="166.40" stroke="#7a7a7a" stroke-width="0.8" />
<text x="452.80" y="168.70" font-size="6.5" text-anchor="end" font-weight="normal" font-style="normal" fill="#000" stroke="#000" >0</text>
<line x1="453.60" y1="125.90" x2="455.30" y2="125.90" stroke="#7a7a7a" stroke-width="0.8" />
<text x="452.80" y="128.20" font-size="6.5" text-anchor="end" font-weight="normal" font-style="normal" fill="#000" stroke="#000" >25</text>
<line x1="453.60" y1="85.40" x2="455.30" y2="85.40" stroke="#7a7a7a" stroke-width="0.8" />
<text x="452.80" y="87.70" font-size="6.5" text-anchor="end" font-weight="normal" font-style="normal" fill="#000" stroke="#000" >50</text>
<line x1="453.60" y1="44.90" x2="455.30" y2="44.90" stroke="#7a7a7a" stroke-width="0.8" />
<text x="452.80" y="47.20" font-size="6.5" text-anchor="end" font-weight="normal" font-style="normal" fill="#000" stroke="#000" >75</text>
<line x1="453.60" y1="4.40" x2="455.30" y2="4.40" stroke="#7a7a7a" stroke-width="0.8" />
<text x="452.80" y="6.70" font-size="6.5" text-anchor="end" font-weight="normal" font-style="normal" fill="#000" stroke="#000" >100</text>
<text transform="translate(440.6,88) rotate(-90)" font-size="8.3" text-anchor="middle" stroke="#000">Transversion frequency (%)</text>
<circle cx="464.6" cy="6.6" r="0.9" fill="#4a80bb"/>
<text x="467.60" y="9.30" font-size="7.1" text-anchor="start" font-weight="normal" font-style="normal" fill="#000" stroke="#000" >Pre-treatment</text>
<circle cx="464.6" cy="17.0" r="0.9" fill="#a83c4e"/>
<text x="467.60" y="19.40" font-size="7.1" text-anchor="start" font-weight="normal" font-style="normal" fill="#000" stroke="#000" >Relapse</text>
<rect x="472.60" y="90.10" width="6.40" height="26.73" fill="#d6e1ee" />
<line x1="475.80" y1="55.11" x2="475.80" y2="124.28" stroke="#5a5f6a" stroke-width="1.0" />
<circle cx="475.80" cy="33.56" r="0.85" fill="#3c68a0"/>
<circle cx="475.80" cy="55.11" r="0.85" fill="#3c68a0"/>
<circle cx="476.25" cy="124.28" r="0.85" fill="#3c68a0"/>
<circle cx="475.80" cy="111.62" r="0.85" fill="#3c68a0"/>
<circle cx="475.60" cy="106.14" r="0.85" fill="#3c68a0"/>
<circle cx="475.80" cy="97.75" r="0.85" fill="#3c68a0"/>
<circle cx="475.80" cy="110.22" r="0.85" fill="#3c68a0"/>
<circle cx="475.80" cy="62.21" r="0.85" fill="#3c68a0"/>
<circle cx="475.60" cy="101.80" r="0.85" fill="#3c68a0"/>
<circle cx="475.80" cy="121.64" r="0.85" fill="#3c68a0"/>
<circle cx="475.80" cy="116.14" r="0.85" fill="#3c68a0"/>
<circle cx="475.80" cy="86.23" r="0.85" fill="#3c68a0"/>
<circle cx="475.80" cy="103.10" r="0.85" fill="#3c68a0"/>
<circle cx="475.60" cy="101.25" r="0.85" fill="#3c68a0"/>
<circle cx="475.80" cy="99.22" r="0.85" fill="#3c68a0"/>
<circle cx="475.80" cy="105.11" r="0.85" fill="#3c68a0"/>
<circle cx="475.35" cy="100.29" r="0.85" fill="#3c68a0"/>
<circle cx="475.60" cy="110.54" r="0.85" fill="#3c68a0"/>
<circle cx="475.60" cy="70.33" r="0.85" fill="#3c68a0"/>
<circle cx="475.80" cy="112.03" r="0.85" fill="#3c68a0"/>
<circle cx="475.60" cy="113.97" r="0.85" fill="#3c68a0"/>
<circle cx="476.00" cy="105.32" r="0.85" fill="#3c68a0"/>
<circle cx="475.80" cy="105.01" r="0.85" fill="#3c68a0"/>
<circle cx="476.00" cy="121.46" r="0.85" fill="#3c68a0"/>
<circle cx="475.80" cy="118.59" r="0.85" fill="#3c68a0"/>
<circle cx="475.80" cy="70.49" r="0.85" fill="#3c68a0"/>
<circle cx="475.60" cy="120.53" r="0.85" fill="#3c68a0"/>
<circle cx="476.25" cy="98.14" r="0.85" fill="#3c68a0"/>
<circle cx="476.25" cy="114.86" r="0.85" fill="#3c68a0"/>
<circle cx="475.80" cy="55.37" r="0.85" fill="#3c68a0"/>
<circle cx="475.35" cy="67.90" r="0.85" fill="#3c68a0"/>
<circle cx="476.25" cy="90.59" r="0.85" fill="#3c68a0"/>
<circle cx="475.80" cy="91.26" r="0.85" fill="#3c68a0"/>
<circle cx="475.35" cy="112.86" r="0.85" fill="#3c68a0"/>
<circle cx="476.00" cy="59.91" r="0.85" fill="#3c68a0"/>
<circle cx="476.25" cy="107.45" r="0.85" fill="#3c68a0"/>
<circle cx="475.80" cy="113.30" r="0.85" fill="#3c68a0"/>
<line x1="472.40" y1="100.79" x2="479.20" y2="100.79" stroke="#44648e" stroke-width="1.0" />
<rect x="507.60" y="61.91" width="6.40" height="25.76" fill="#e9e0e2" />
<line x1="510.80" y1="39.72" x2="510.80" y2="116.83" stroke="#5a5f6a" stroke-width="1.0" />
<circle cx="510.60" cy="21.90" r="0.85" fill="#952c46"/>
<circle cx="511.25" cy="137.08" r="0.85" fill="#952c46"/>
<circle cx="511.00" cy="39.72" r="0.85" fill="#952c46"/>
<circle cx="511.25" cy="116.83" r="0.85" fill="#952c46"/>
<circle cx="510.80" cy="81.89" r="0.85" fill="#952c46"/>
<circle cx="510.80" cy="63.72" r="0.85" fill="#952c46"/>
<circle cx="511.25" cy="97.39" r="0.85" fill="#952c46"/>
<circle cx="510.80" cy="50.77" r="0.85" fill="#952c46"/>
<circle cx="510.35" cy="88.18" r="0.85" fill="#952c46"/>
<circle cx="510.35" cy="78.16" r="0.85" fill="#952c46"/>
<circle cx="511.00" cy="79.15" r="0.85" fill="#952c46"/>
<circle cx="511.25" cy="81.74" r="0.85" fill="#952c46"/>
<circle cx="510.80" cy="42.96" r="0.85" fill="#952c46"/>
<circle cx="510.80" cy="74.37" r="0.85" fill="#952c46"/>
<circle cx="510.80" cy="62.79" r="0.85" fill="#952c46"/>
<circle cx="511.00" cy="45.23" r="0.85" fill="#952c46"/>
<circle cx="510.80" cy="60.30" r="0.85" fill="#952c46"/>
<circle cx="510.80" cy="99.74" r="0.85" fill="#952c46"/>
<circle cx="510.80" cy="71.55" r="0.85" fill="#952c46"/>
<circle cx="510.80" cy="78.29" r="0.85" fill="#952c46"/>
<circle cx="511.00" cy="75.09" r="0.85" fill="#952c46"/>
<circle cx="510.80" cy="113.31" r="0.85" fill="#952c46"/>
<circle cx="510.60" cy="73.06" r="0.85" fill="#952c46"/>
<circle cx="510.60" cy="74.19" r="0.85" fill="#952c46"/>
<circle cx="510.35" cy="84.96" r="0.85" fill="#952c46"/>
<circle cx="510.35" cy="84.22" r="0.85" fill="#952c46"/>
<circle cx="510.35" cy="66.33" r="0.85" fill="#952c46"/>
<circle cx="510.80" cy="87.30" r="0.85" fill="#952c46"/>
<circle cx="510.35" cy="62.27" r="0.85" fill="#952c46"/>
<circle cx="510.80" cy="86.03" r="0.85" fill="#952c46"/>
<line x1="507.40" y1="76.81" x2="514.20" y2="76.81" stroke="#862a40" stroke-width="1.0" />
<text transform="translate(478.3,174.4) rotate(-45)" font-size="7.2" text-anchor="end" stroke="#000">Pre-treatment</text>
<text transform="translate(515.5,175.2) rotate(-45)" font-size="7.0" text-anchor="end" stroke="#000">Relapse</text>
<text x="487.20" y="211.20" font-size="7.4" text-anchor="middle" font-weight="normal" font-style="normal" fill="#000" stroke="#000" >P = 0.01</text>
<text x="-0.30" y="232.90" font-size="12" text-anchor="start" font-weight="bold" font-style="normal" fill="#000" stroke="#000" >C</text>
<text transform="translate(87.87,244.8) rotate(-90)" font-size="5.0" font-weight="bold" fill="#b8b8b8" stroke="#b8b8b8">018</text>
<text transform="translate(93.91,244.8) rotate(-90)" font-size="5.0" font-weight="bold" fill="#111" stroke="#111">055</text>
<text transform="translate(99.95,244.8) rotate(-90)" font-size="5.0" font-weight="bold" fill="#111" stroke="#111">092</text>
<text transform="translate(105.99,244.8) rotate(-90)" font-size="5.0" font-weight="bold" fill="#111" stroke="#111">129</text>
<text transform="translate(112.03,244.8) rotate(-90)" font-size="5.0" font-weight="bold" fill="#b8b8b8" stroke="#b8b8b8">166</text>
<text transform="translate(118.07,244.8) rotate(-90)" font-size="5.0" font-weight="bold" fill="#b8b8b8" stroke="#b8b8b8">203</text>
<text transform="translate(124.11,244.8) rotate(-90)" font-size="5.0" font-weight="bold" fill="#111" stroke="#111">240</text>
<text transform="translate(130.15,244.8) rotate(-90)" font-size="5.0" font-weight="bold" fill="#111" stroke="#111">277</text>
<text transform="translate(136.19,244.8) rotate(-90)" font-size="5.0" font-weight="bold" fill="#111" stroke="#111">314</text>
<text transform="translate(142.23,244.8) rotate(-90)" font-size="5.0" font-weight="bold" fill="#b8b8b8" stroke="#b8b8b8">351</text>
<text transform="translate(148.27,244.8) rotate(-90)" font-size="5.0" font-weight="bold" fill="#b8b8b8" stroke="#b8b8b8">388</text>
<text transform="translate(154.31,244.8) rotate(-90)" font-size="5.0" font-weight="bold" fill="#111" stroke="#111">425</text>
<text transform="translate(160.35,244.8) rotate(-90)" font-size="5.0" font-weight="bold" fill="#b8b8b8" stroke="#b8b8b8">462</text>
<text transform="translate(166.39,244.8) rotate(-90)" font-size="5.0" font-weight="bold" fill="#b8b8b8" stroke="#b8b8b8">499</text>
<text transform="translate(172.43,244.8) rotate(-90)" font-size="5.0" font-weight="bold" fill="#b8b8b8" stroke="#b8b8b8">536</text>
<text transform="translate(178.47,244.8) rotate(-90)" font-size="5.0" font-weight="bold" fill="#111" stroke="#111">573</text>
<text transform="translate(184.51,244.8) rotate(-90)" font-size="5.0" font-weight="bold" fill="#111" stroke="#111">610</text>
<text transform="translate(190.55,244.8) rotate(-90)" font-size="5.0" font-weight="bold" fill="#111" stroke="#111">647</text>
<text transform="translate(196.59,244.8) rotate(-90)" font-size="5.0" font-weight="bold" fill="#111" stroke="#111">684</text>
<text transform="translate(202.63,244.8) rotate(-90)" font-size="5.0" font-weight="bold" fill="#111" stroke="#111">721</text>
<text transform="translate(208.67,244.8) rotate(-90)" font-size="5.0" font-weight="bold" fill="#111" stroke="#111">758</text>
<text transform="translate(214.71,244.8) rotate(-90)" font-size="5.0" font-weight="bold" fill="#b8b8b8" stroke="#b8b8b8">795</text>
<text transform="translate(220.75,244.8) rotate(-90)" font-size="5.0" font-weight="bold" fill="#b8b8b8" stroke="#b8b8b8">832</text>
<text transform="translate(226.79,244.8) rotate(-90)" font-size="5.0" font-weight="bold" fill="#b8b8b8" stroke="#b8b8b8">869</text>
<text transform="translate(232.83,244.8) rotate(-90)" font-size="5.0" font-weight="bold" fill="#b8b8b8" stroke="#b8b8b8">006</text>
<text transform="translate(238.87,244.8) rotate(-90)" font-size="5.0" font-weight="bold" fill="#111" stroke="#111">043</text>
<text transform="translate(244.91,244.8) rotate(-90)" font-size="5.0" font-weight="bold" fill="#111" stroke="#111">080</text>
<text transform="translate(250.95,244.8) rotate(-90)" font-size="5.0" font-weight="bold" fill="#111" stroke="#111">117</text>
<text transform="translate(256.99,244.8) rotate(-90)" font-size="5.0" font-weight="bold" fill="#111" stroke="#111">154</text>
<text transform="translate(263.03,244.8) rotate(-90)" font-size="5.0" font-weight="bold" fill="#111" stroke="#111">191</text>
<text transform="translate(269.07,244.8) rotate(-90)" font-size="5.0" font-weight="bold" fill="#111" stroke="#111">228</text>
<text transform="translate(275.11,244.8) rotate(-90)" font-size="5.0" font-weight="bold" fill="#111" stroke="#111">265</text>
<text transform="translate(281.15,244.8) rotate(-90)" font-size="5.0" font-weight="bold" fill="#111" stroke="#111">302</text>
<text transform="translate(287.19,244.8) rotate(-90)" font-size="5.0" font-weight="bold" fill="#111" stroke="#111">339</text>
<text transform="translate(293.23,244.8) rotate(-90)" font-size="5.0" font-weight="bold" fill="#b8b8b8" stroke="#b8b8b8">376</text>
<text transform="translate(299.27,244.8) rotate(-90)" font-size="5.0" font-weight="bold" fill="#111" stroke="#111">413</text>
<text transform="translate(305.31,244.8) rotate(-90)" font-size="5.0" font-weight="bold" fill="#111" stroke="#111">450</text>
<text transform="translate(311.35,244.8) rotate(-90)" font-size="5.0" font-weight="bold" fill="#111" stroke="#111">487</text>
<text transform="translate(317.39,244.8) rotate(-90)" font-size="5.0" font-weight="bold" fill="#111" stroke="#111">524</text>
<text transform="translate(323.43,244.8) rotate(-90)" font-size="5.0" font-weight="bold" fill="#111" stroke="#111">561</text>
<text transform="translate(329.47,244.8) rotate(-90)" font-size="5.0" font-weight="bold" fill="#111" stroke="#111">598</text>
<rect x="83.15" y="246.10" width="5.54" height="13.10" fill="#f0dbc9" />
<rect x="83.15" y="259.60" width="5.54" height="12.20" fill="#3b9c90" />
<rect x="89.19" y="246.10" width="5.54" height="13.10" fill="#f0dbc9" />
<rect x="89.19" y="259.60" width="5.54" height="12.20" fill="#a4d1cc" />
<rect x="95.23" y="246.10" width="5.54" height="13.10" fill="#f0dbc9" />
<rect x="95.23" y="259.60" width="5.54" height="12.20" fill="#a4d1cc" />
<rect x="101.27" y="246.10" width="5.54" height="13.10" fill="#c4885c" />
<rect x="101.27" y="259.60" width="5.54" height="12.20" fill="#3b9c90" />
<rect x="107.31" y="246.10" width="5.54" height="13.10" fill="#c4885c" />
<rect x="107.31" y="259.60" width="5.54" height="12.20" fill="#3b9c90" />
<rect x="113.35" y="246.10" width="5.54" height="13.10" fill="#f0dbc9" />
<rect x="113.35" y="259.60" width="5.54" height="12.20" fill="#3b9c90" />
<rect x="119.39" y="246.10" width="5.54" height="13.10" fill="#f0dbc9" />
<rect x="119.39" y="259.60" width="5.54" height="12.20" fill="#3b9c90" />
<rect x="125.43" y="246.10" width="5.54" height="13.10" fill="#f0dbc9" />
<rect x="125.43" y="259.60" width="5.54" height="12.20" fill="#a4d1cc" />
<rect x="131.47" y="246.10" width="5.54" height="13.10" fill="#f0dbc9" />
<rect x="131.47" y="259.60" width="5.54" height="12.20" fill="#3b9c90" />
<rect x="137.51" y="246.10" width="5.54" height="13.10" fill="#c4885c" />
<rect x="137.51" y="259.60" width="5.54" height="12.20" fill="#a4d1cc" />
<rect x="143.55" y="246.10" width="5.54" height="13.10" fill="#f0dbc9" />
<rect x="143.55" y="259.60" width="5.54" height="12.20" fill="#3b9c90" />
<rect x="149.59" y="246.10" width="5.54" height="13.10" fill="#c4885c" />
<rect x="149.59" y="259.60" width="5.54" height="12.20" fill="#3b9c90" />
<rect x="155.63" y="246.10" width="5.54" height="13.10" fill="#f0dbc9" />
<rect x="155.63" y="259.60" width="5.54" height="12.20" fill="#a4d1cc" />
<rect x="161.67" y="246.10" width="5.54" height="13.10" fill="#f0dbc9" />
<rect x="161.67" y="259.60" width="5.54" height="12.20" fill="#3b9c90" />
<rect x="167.71" y="246.10" width="5.54" height="13.10" fill="#c4885c" />
<rect x="167.71" y="259.60" width="5.54" height="12.20" fill="#3b9c90" />
<rect x="173.75" y="246.10" width="5.54" height="13.10" fill="#f0dbc9" />
<rect x="173.75" y="259.60" width="5.54" height="12.20" fill="#a4d1cc" />
<rect x="179.79" y="246.10" width="5.54" height="13.10" fill="#f0dbc9" />
<rect x="179.79" y="259.60" width="5.54" height="12.20" fill="#3b9c90" />
<rect x="185.83" y="246.10" width="5.54" height="13.10" fill="#f0dbc9" />
<rect x="185.83" y="259.60" width="5.54" height="12.20" fill="#a4d1cc" />
<rect x="191.87" y="246.10" width="5.54" height="13.10" fill="#f0dbc9" />
<rect x="191.87" y="259.60" width="5.54" height="12.20" fill="#3b9c90" />
<rect x="197.91" y="246.10" width="5.54" height="13.10" fill="#f0dbc9" />
<rect x="197.91" y="259.60" width="5.54" height="12.20" fill="#3b9c90" />
<rect x="203.95" y="246.10" width="5.54" height="13.10" fill="#f0dbc9" />
<rect x="203.95" y="259.60" width="5.54" height="12.20" fill="#a4d1cc" />
<rect x="209.99" y="246.10" width="5.54" height="13.10" fill="#f0dbc9" />
<rect x="209.99" y="259.60" width="5.54" height="12.20" fill="#3b9c90" />
<rect x="216.03" y="246.10" width="5.54" height="13.10" fill="#f0dbc9" />
<rect x="216.03" y="259.60" width="5.54" height="12.20" fill="#3b9c90" />
<rect x="222.07" y="246.10" width="5.54" height="13.10" fill="#c4885c" />
<rect x="222.07" y="259.60" width="5.54" height="12.20" fill="#3b9c90" />
<rect x="228.11" y="246.10" width="5.54" height="13.10" fill="#f0dbc9" />
<rect x="228.11" y="259.60" width="5.54" height="12.20" fill="#3b9c90" />
<rect x="234.15" y="246.10" width="5.54" height="13.10" fill="#f0dbc9" />
<rect x="234.15" y="259.60" width="5.54" height="12.20" fill="#a4d1cc" />
<rect x="240.19" y="246.10" width="5.54" height="13.10" fill="#f0dbc9" />
<rect x="240.19" y="259.60" width="5.54" height="12.20" fill="#3b9c90" />
<rect x="246.23" y="246.10" width="5.54" height="13.10" fill="#f0dbc9" />
<rect x="246.23" y="259.60" width="5.54" height="12.20" fill="#a4d1cc" />
<rect x="252.27" y="246.10" width="5.54" height="13.10" fill="#f0dbc9" />
<rect x="252.27" y="259.60" width="5.54" height="12.20" fill="#a4d1cc" />
<rect x="258.31" y="246.10" width="5.54" height="13.10" fill="#f0dbc9" />
<rect x="258.31" y="259.60" width="5.54" height="12.20" fill="#a4d1cc" />
<rect x="264.35" y="246.10" width="5.54" height="13.10" fill="#f0dbc9" />
<rect x="264.35" y="259.60" width="5.54" height="12.20" fill="#a4d1cc" />
<rect x="270.39" y="246.10" width="5.54" height="13.10" fill="#f0dbc9" />
<rect x="270.39" y="259.60" width="5.54" height="12.20" fill="#a4d1cc" />
<rect x="276.43" y="246.10" width="5.54" height="13.10" fill="#f0dbc9" />
<rect x="276.43" y="259.60" width="5.54" height="12.20" fill="#3b9c90" />
<rect x="282.47" y="246.10" width="5.54" height="13.10" fill="#f0dbc9" />
<rect x="282.47" y="259.60" width="5.54" height="12.20" fill="#3b9c90" />
<rect x="288.51" y="246.10" width="5.54" height="13.10" fill="#f0dbc9" />
<rect x="288.51" y="259.60" width="5.54" height="12.20" fill="#3b9c90" />
<rect x="294.55" y="246.10" width="5.54" height="13.10" fill="#f0dbc9" />
<rect x="294.55" y="259.60" width="5.54" height="12.20" fill="#a4d1cc" />
<rect x="300.59" y="246.10" width="5.54" height="13.10" fill="#c4885c" />
<rect x="300.59" y="259.60" width="5.54" height="12.20" fill="#3b9c90" />
<rect x="306.63" y="246.10" width="5.54" height="13.10" fill="#f0dbc9" />
<rect x="306.63" y="259.60" width="5.54" height="12.20" fill="#3b9c90" />
<rect x="312.67" y="246.10" width="5.54" height="13.10" fill="#f0dbc9" />
<rect x="312.67" y="259.60" width="5.54" height="12.20" fill="#a4d1cc" />
<rect x="318.71" y="246.10" width="5.54" height="13.10" fill="#c4885c" />
<rect x="318.71" y="259.60" width="5.54" height="12.20" fill="#3b9c90" />
<rect x="324.75" y="246.10" width="5.54" height="13.10" fill="#c4885c" />
<rect x="324.75" y="259.60" width="5.54" height="12.20" fill="#a4d1cc" />
<text x="80.60" y="254.70" font-size="7.9" text-anchor="end" font-weight="normal" font-style="normal" fill="#000" stroke="#000" >Treatment response</text>
<text x="80.60" y="268.00" font-size="7.9" text-anchor="end" font-weight="normal" font-style="normal" fill="#000" stroke="#000" >Time to relapse</text>
<rect x="339.20" y="249.20" width="6.20" height="6.60" fill="#e9dacb" />
<text x="348.80" y="254.70" font-size="6.3" text-anchor="start" font-weight="normal" font-style="normal" fill="#000" stroke="#000" >CR</text>
<rect x="361.70" y="249.20" width="6.80" height="6.60" fill="#c79273" />
<text x="371.00" y="254.70" font-size="6.3" text-anchor="start" font-weight="normal" font-style="normal" fill="#000" stroke="#000" >PR</text>
<rect x="339.20" y="262.70" width="6.20" height="6.50" fill="#a8ccc5" />
<text x="348.80" y="268.00" font-size="6.2" text-anchor="start" font-weight="normal" font-style="normal" fill="#000" stroke="#000" >≥3 years</text>
<rect x="375.60" y="262.70" width="6.40" height="6.50" fill="#4c9d8e" />
<text x="384.90" y="268.00" font-size="6.2" text-anchor="start" font-weight="normal" font-style="normal" fill="#000" stroke="#000" >&lt; 3 years</text>
<rect x="83.15" y="277.40" width="5.54" height="12.40" fill="#f0f0f0" />
<rect x="89.19" y="277.40" width="5.54" height="12.40" fill="#f0f0f0" />
<rect x="95.23" y="277.40" width="5.54" height="12.40" fill="#f0f0f0" />
<rect x="101.27" y="277.40" width="5.54" height="12.40" fill="#f0f0f0" />
<rect x="107.31" y="277.40" width="5.54" height="12.40" fill="#f0f0f0" />
<rect x="113.35" y="277.40" width="5.54" height="12.40" fill="#f0f0f0" />
<rect x="119.39" y="277.40" width="5.54" height="12.40" fill="#f0f0f0" />
<rect x="125.43" y="277.40" width="5.54" height="12.40" fill="#f0f0f0" />
<rect x="131.47" y="277.40" width="5.54" height="12.40" fill="#f0f0f0" />
<rect x="137.51" y="277.40" width="5.54" height="12.40" fill="#f0f0f0" />
<rect x="143.55" y="277.40" width="5.54" height="12.40" fill="#f0f0f0" />
<rect x="149.59" y="277.40" width="5.54" height="12.40" fill="#f0f0f0" />
<rect x="155.63" y="277.40" width="5.54" height="12.40" fill="#f0f0f0" />
<rect x="161.67" y="277.40" width="5.54" height="12.40" fill="#f0f0f0" />
<rect x="167.71" y="277.40" width="5.54" height="12.40" fill="#f0f0f0" />
<rect x="173.75" y="277.40" width="5.54" height="12.40" fill="#f0f0f0" />
<rect x="179.79" y="277.40" width="5.54" height="12.40" fill="#f0f0f0" />
<rect x="185.83" y="277.40" width="5.54" height="12.40" fill="#f0f0f0" />
<rect x="191.87" y="277.40" width="5.54" height="12.40" fill="#f0f0f0" />
<rect x="197.91" y="277.40" width="5.54" height="12.40" fill="#f0f0f0" />
<rect x="203.95" y="277.40" width="5.54" height="12.40" fill="#f0f0f0" />
<rect x="209.99" y="277.40" width="5.54" height="12.40" fill="#f0f0f0" />
<rect x="216.03" y="277.40" width="5.54" height="12.40" fill="#f0f0f0" />
<rect x="222.07" y="277.40" width="5.54" height="12.40" fill="#f0f0f0" />
<rect x="228.11" y="277.40" width="5.54" height="12.40" fill="#f0f0f0" />
<rect x="234.15" y="277.40" width="5.54" height="12.40" fill="#f0f0f0" />
<rect x="240.19" y="277.40" width="5.54" height="12.40" fill="#f0f0f0" />
<rect x="246.23" y="277.40" width="5.54" height="12.40" fill="#f0f0f0" />
<rect x="252.27" y="277.40" width="5.54" height="12.40" fill="#f0f0f0" />
<rect x="258.31" y="277.40" width="5.54" height="12.40" fill="#f0f0f0" />
<rect x="264.35" y="277.40" width="5.54" height="12.40" fill="#f0f0f0" />
<rect x="270.39" y="277.40" width="5.54" height="12.40" fill="#f0f0f0" />
<rect x="276.43" y="277.40" width="5.54" height="12.40" fill="#f0f0f0" />
<rect x="282.47" y="277.40" width="5.54" height="12.40" fill="#f0f0f0" />
<rect x="288.51" y="277.40" width="5.54" height="12.40" fill="#f0f0f0" />
<rect x="294.55" y="277.40" width="5.54" height="12.40" fill="#f0f0f0" />
<rect x="300.59" y="277.40" width="5.54" height="12.40" fill="#f0f0f0" />
<rect x="306.63" y="277.40" width="5.54" height="12.40" fill="#f0f0f0" />
<rect x="312.67" y="277.40" width="5.54" height="12.40" fill="#f0f0f0" />
<rect x="318.71" y="277.40" width="5.54" height="12.40" fill="#f0f0f0" />
<rect x="324.75" y="277.40" width="5.54" height="12.40" fill="#f0f0f0" />
<rect x="83.15" y="277.40" width="5.24" height="12.40" fill="#3f6ebf" />
<polygon points="85.51,277.40 88.39,277.40 87.24,279.80" fill="#fff"/>
<rect x="89.19" y="277.40" width="5.24" height="12.40" fill="#3f6ebf" />
<rect x="95.23" y="277.40" width="5.24" height="12.40" fill="#3f6ebf" />
<rect x="101.27" y="277.40" width="5.24" height="12.40" fill="#3f6ebf" />
<rect x="107.31" y="277.40" width="5.24" height="12.40" fill="#3f6ebf" />
<rect x="113.35" y="277.40" width="5.24" height="12.40" fill="#3f6ebf" />
<rect x="119.39" y="277.40" width="5.24" height="12.40" fill="#3f6ebf" />
<rect x="125.43" y="277.40" width="5.24" height="12.40" fill="#3f6ebf" />
<text transform="translate(78.4,285.40) scale(0.9,1)" font-size="8.7" text-anchor="end" font-style="italic" stroke="#000">RPS15</text>
<rect x="83.15" y="290.55" width="5.54" height="12.40" fill="#f0f0f0" />
<rect x="89.19" y="290.55" width="5.54" height="12.40" fill="#f0f0f0" />
<rect x="95.23" y="290.55" width="5.54" height="12.40" fill="#f0f0f0" />
<rect x="101.27" y="290.55" width="5.54" height="12.40" fill="#f0f0f0" />
<rect x="107.31" y="290.55" width="5.54" height="12.40" fill="#f0f0f0" />
<rect x="113.35" y="290.55" width="5.54" height="12.40" fill="#f0f0f0" />
<rect x="119.39" y="290.55" width="5.54" height="12.40" fill="#f0f0f0" />
<rect x="125.43" y="290.55" width="5.54" height="12.40" fill="#f0f0f0" />
<rect x="131.47" y="290.55" width="5.54" height="12.40" fill="#f0f0f0" />
<rect x="137.51" y="290.55" width="5.54" height="12.40" fill="#f0f0f0" />
<rect x="143.55" y="290.55" width="5.54" height="12.40" fill="#f0f0f0" />
<rect x="149.59" y="290.55" width="5.54" height="12.40" fill="#f0f0f0" />
<rect x="155.63" y="290.55" width="5.54" height="12.40" fill="#f0f0f0" />
<rect x="161.67" y="290.55" width="5.54" height="12.40" fill="#f0f0f0" />
<rect x="167.71" y="290.55" width="5.54" height="12.40" fill="#f0f0f0" />
<rect x="173.75" y="290.55" width="5.54" height="12.40" fill="#f0f0f0" />
<rect x="179.79" y="290.55" width="5.54" height="12.40" fill="#f0f0f0" />
<rect x="185.83" y="290.55" width="5.54" height="12.40" fill="#f0f0f0" />
<rect x="191.87" y="290.55" width="5.54" height="12.40" fill="#f0f0f0" />
<rect x="197.91" y="290.55" width="5.54" height="12.40" fill="#f0f0f0" />
<rect x="203.95" y="290.55" width="5.54" height="12.40" fill="#f0f0f0" />
<rect x="209.99" y="290.55" width="5.54" height="12.40" fill="#f0f0f0" />
<rect x="216.03" y="290.55" width="5.54" height="12.40" fill="#f0f0f0" />
<rect x="222.07" y="290.55" width="5.54" height="12.40" fill="#f0f0f0" />
<rect x="228.11" y="290.55" width="5.54" height="12.40" fill="#f0f0f0" />
<rect x="234.15" y="290.55" width="5.54" height="12.40" fill="#f0f0f0" />
<rect x="240.19" y="290.55" width="5.54" height="12.40" fill="#f0f0f0" />
<rect x="246.23" y="290.55" width="5.54" height="12.40" fill="#f0f0f0" />
<rect x="252.27" y="290.55" width="5.54" height="12.40" fill="#f0f0f0" />
<rect x="258.31" y="290.55" width="5.54" height="12.40" fill="#f0f0f0" />
<rect x="264.35" y="290.55" width="5.54" height="12.40" fill="#f0f0f0" />
<rect x="270.39" y="290.55" width="5.54" height="12.40" fill="#f0f0f0" />
<rect x="276.43" y="290.55" width="5.54" height="12.40" fill="#f0f0f0" />
<rect x="282.47" y="290.55" width="5.54" height="12.40" fill="#f0f0f0" />
<rect x="288.51" y="290.55" width="5.54" height="12.40" fill="#f0f0f0" />
<rect x="294.55" y="290.55" width="5.54" height="12.40" fill="#f0f0f0" />
<rect x="300.59" y="290.55" width="5.54" height="12.40" fill="#f0f0f0" />
<rect x="306.63" y="290.55" width="5.54" height="12.40" fill="#f0f0f0" />
<rect x="312.67" y="290.55" width="5.54" height="12.40" fill="#f0f0f0" />
<rect x="318.71" y="290.55" width="5.54" height="12.40" fill="#f0f0f0" />
<rect x="324.75" y="290.55" width="5.54" height="12.40" fill="#f0f0f0" />
<rect x="89.19" y="290.55" width="5.24" height="12.40" fill="#9dc02e" />
<rect x="131.47" y="290.55" width="5.24" height="12.40" fill="#b5202c" />
<polygon points="133.83,290.55 136.71,290.55 135.56,292.95" fill="#fff"/>
<rect x="137.51" y="290.55" width="5.24" height="12.40" fill="#9dc02e" />
<rect x="143.55" y="290.55" width="5.24" height="12.40" fill="#9dc02e" />
<rect x="149.59" y="290.55" width="5.24" height="12.40" fill="#9dc02e" />
<rect x="155.63" y="290.55" width="5.24" height="12.40" fill="#3f6ebf" />
<polygon points="157.99,290.55 160.87,290.55 159.72,292.95" fill="#fff"/>
<rect x="161.67" y="290.55" width="5.24" height="12.40" fill="#3f6ebf" />
<text transform="translate(78.4,298.55) scale(0.9,1)" font-size="8.7" text-anchor="end" font-style="italic" stroke="#000">NOTCH1</text>
<rect x="83.15" y="303.70" width="5.54" height="12.40" fill="#f0f0f0" />
<rect x="89.19" y="303.70" width="5.54" height="12.40" fill="#f0f0f0" />
<rect x="95.23" y="303.70" width="5.54" height="12.40" fill="#f0f0f0" />
<rect x="101.27" y="303.70" width="5.54" height="12.40" fill="#f0f0f0" />
<rect x="107.31" y="303.70" width="5.54" height="12.40" fill="#f0f0f0" />
<rect x="113.35" y="303.70" width="5.54" height="12.40" fill="#f0f0f0" />
<rect x="119.39" y="303.70" width="5.54" height="12.40" fill="#f0f0f0" />
<rect x="125.43" y="303.70" width="5.54" height="12.40" fill="#f0f0f0" />
<rect x="131.47" y="303.70" width="5.54" height="12.40" fill="#f0f0f0" />
<rect x="137.51" y="303.70" width="5.54" height="12.40" fill="#f0f0f0" />
<rect x="143.55" y="303.70" width="5.54" height="12.40" fill="#f0f0f0" />
<rect x="149.59" y="303.70" width="5.54" height="12.40" fill="#f0f0f0" />
<rect x="155.63" y="303.70" width="5.54" height="12.40" fill="#f0f0f0" />
<rect x="161.67" y="303.70" width="5.54" height="12.40" fill="#f0f0f0" />
<rect x="167.71" y="303.70" width="5.54" height="12.40" fill="#f0f0f0" />
<rect x="173.75" y="303.70" width="5.54" height="12.40" fill="#f0f0f0" />
<rect x="179.79" y="303.70" width="5.54" height="12.40" fill="#f0f0f0" />
<rect x="185.83" y="303.70" width="5.54" height="12.40" fill="#f0f0f0" />
<rect x="191.87" y="303.70" width="5.54" height="12.40" fill="#f0f0f0" />
<rect x="197.91" y="303.70" width="5.54" height="12.40" fill="#f0f0f0" />
<rect x="203.95" y="303.70" width="5.54" height="12.40" fill="#f0f0f0" />
<rect x="209.99" y="303.70" width="5.54" height="12.40" fill="#f0f0f0" />
<rect x="216.03" y="303.70" width="5.54" height="12.40" fill="#f0f0f0" />
<rect x="222.07" y="303.70" width="5.54" height="12.40" fill="#f0f0f0" />
<rect x="228.11" y="303.70" width="5.54" height="12.40" fill="#f0f0f0" />
<rect x="234.15" y="303.70" width="5.54" height="12.40" fill="#f0f0f0" />
<rect x="240.19" y="303.70" width="5.54" height="12.40" fill="#f0f0f0" />
<rect x="246.23" y="303.70" width="5.54" height="12.40" fill="#f0f0f0" />
<rect x="252.27" y="303.70" width="5.54" height="12.40" fill="#f0f0f0" />
<rect x="258.31" y="303.70" width="5.54" height="12.40" fill="#f0f0f0" />
<rect x="264.35" y="303.70" width="5.54" height="12.40" fill="#f0f0f0" />
<rect x="270.39" y="303.70" width="5.54" height="12.40" fill="#f0f0f0" />
<rect x="276.43" y="303.70" width="5.54" height="12.40" fill="#f0f0f0" />
<rect x="282.47" y="303.70" width="5.54" height="12.40" fill="#f0f0f0" />
<rect x="288.51" y="303.70" width="5.54" height="12.40" fill="#f0f0f0" />
<rect x="294.55" y="303.70" width="5.54" height="12.40" fill="#f0f0f0" />
<rect x="300.59" y="303.70" width="5.54" height="12.40" fill="#f0f0f0" />
<rect x="306.63" y="303.70" width="5.54" height="12.40" fill="#f0f0f0" />
<rect x="312.67" y="303.70" width="5.54" height="12.40" fill="#f0f0f0" />
<rect x="318.71" y="303.70" width="5.54" height="12.40" fill="#f0f0f0" />
<rect x="324.75" y="303.70" width="5.54" height="12.40" fill="#f0f0f0" />
<rect x="95.23" y="303.70" width="5.24" height="12.40" fill="#3f6ebf" />
<polygon points="97.59,303.70 100.47,303.70 99.32,306.10" fill="#fff"/>
<rect x="101.27" y="303.70" width="5.24" height="12.40" fill="#3f6ebf" />
<rect x="107.31" y="303.70" width="5.24" height="12.40" fill="#3f6ebf" />
<rect x="161.67" y="303.70" width="5.24" height="12.40" fill="#b5202c" />
<polygon points="164.03,303.70 166.91,303.70 165.76,306.10" fill="#fff"/>
<rect x="167.71" y="303.70" width="5.24" height="12.40" fill="#3f6ebf" />
<rect x="173.75" y="303.70" width="5.24" height="12.40" fill="#3f6ebf" />
<polygon points="176.11,303.70 178.99,303.70 177.84,306.10" fill="#fff"/>
<rect x="179.79" y="303.70" width="5.24" height="12.40" fill="#3f6ebf" />
<rect x="185.83" y="303.70" width="5.24" height="12.40" fill="#3f6ebf" />
<text transform="translate(78.4,311.70) scale(0.9,1)" font-size="8.7" text-anchor="end" font-style="italic" stroke="#000">TP53</text>
<rect x="83.15" y="316.85" width="5.54" height="12.40" fill="#f0f0f0" />
<rect x="89.19" y="316.85" width="5.54" height="12.40" fill="#f0f0f0" />
<rect x="95.23" y="316.85" width="5.54" height="12.40" fill="#f0f0f0" />
<rect x="101.27" y="316.85" width="5.54" height="12.40" fill="#f0f0f0" />
<rect x="107.31" y="316.85" width="5.54" height="12.40" fill="#f0f0f0" />
<rect x="113.35" y="316.85" width="5.54" height="12.40" fill="#f0f0f0" />
<rect x="119.39" y="316.85" width="5.54" height="12.40" fill="#f0f0f0" />
<rect x="125.43" y="316.85" width="5.54" height="12.40" fill="#f0f0f0" />
<rect x="131.47" y="316.85" width="5.54" height="12.40" fill="#f0f0f0" />
<rect x="137.51" y="316.85" width="5.54" height="12.40" fill="#f0f0f0" />
<rect x="143.55" y="316.85" width="5.54" height="12.40" fill="#f0f0f0" />
<rect x="149.59" y="316.85" width="5.54" height="12.40" fill="#f0f0f0" />
<rect x="155.63" y="316.85" width="5.54" height="12.40" fill="#f0f0f0" />
<rect x="161.67" y="316.85" width="5.54" height="12.40" fill="#f0f0f0" />
<rect x="167.71" y="316.85" width="5.54" height="12.40" fill="#f0f0f0" />
<rect x="173.75" y="316.85" width="5.54" height="12.40" fill="#f0f0f0" />
<rect x="179.79" y="316.85" width="5.54" height="12.40" fill="#f0f0f0" />
<rect x="185.83" y="316.85" width="5.54" height="12.40" fill="#f0f0f0" />
<rect x="191.87" y="316.85" width="5.54" height="12.40" fill="#f0f0f0" />
<rect x="197.91" y="316.85" width="5.54" height="12.40" fill="#f0f0f0" />
<rect x="203.95" y="316.85" width="5.54" height="12.40" fill="#f0f0f0" />
<rect x="209.99" y="316.85" width="5.54" height="12.40" fill="#f0f0f0" />
<rect x="216.03" y="316.85" width="5.54" height="12.40" fill="#f0f0f0" />
<rect x="222.07" y="316.85" width="5.54" height="12.40" fill="#f0f0f0" />
<rect x="228.11" y="316.85" width="5.54" height="12.40" fill="#f0f0f0" />
<rect x="234.15" y="316.85" width="5.54" height="12.40" fill="#f0f0f0" />
<rect x="240.19" y="316.85" width="5.54" height="12.40" fill="#f0f0f0" />
<rect x="246.23" y="316.85" width="5.54" height="12.40" fill="#f0f0f0" />
<rect x="252.27" y="316.85" width="5.54" height="12.40" fill="#f0f0f0" />
<rect x="258.31" y="316.85" width="5.54" height="12.40" fill="#f0f0f0" />
<rect x="264.35" y="316.85" width="5.54" height="12.40" fill="#f0f0f0" />
<rect x="270.39" y="316.85" width="5.54" height="12.40" fill="#f0f0f0" />
<rect x="276.43" y="316.85" width="5.54" height="12.40" fill="#f0f0f0" />
<rect x="282.47" y="316.85" width="5.54" height="12.40" fill="#f0f0f0" />
<rect x="288.51" y="316.85" width="5.54" height="12.40" fill="#f0f0f0" />
<rect x="294.55" y="316.85" width="5.54" height="12.40" fill="#f0f0f0" />
<rect x="300.59" y="316.85" width="5.54" height="12.40" fill="#f0f0f0" />
<rect x="306.63" y="316.85" width="5.54" height="12.40" fill="#f0f0f0" />
<rect x="312.67" y="316.85" width="5.54" height="12.40" fill="#f0f0f0" />
<rect x="318.71" y="316.85" width="5.54" height="12.40" fill="#f0f0f0" />
<rect x="324.75" y="316.85" width="5.54" height="12.40" fill="#f0f0f0" />
<rect x="155.63" y="316.85" width="5.24" height="12.40" fill="#3f6ebf" />
<rect x="191.87" y="316.85" width="5.24" height="12.40" fill="#9dc02e" />
<rect x="197.91" y="316.85" width="5.24" height="12.40" fill="#3f6ebf" />
<rect x="203.95" y="316.85" width="5.24" height="12.40" fill="#3f6ebf" />
<polygon points="206.31,316.85 209.19,316.85 208.04,319.25" fill="#fff"/>
<rect x="209.99" y="316.85" width="5.24" height="12.40" fill="#3f6ebf" />
<polygon points="212.35,316.85 215.23,316.85 214.08,319.25" fill="#fff"/>
<rect x="216.03" y="316.85" width="5.24" height="12.40" fill="#3f6ebf" />
<polygon points="218.39,316.85 221.27,316.85 220.12,319.25" fill="#fff"/>
<rect x="222.07" y="316.85" width="5.24" height="12.40" fill="#3f6ebf" />
<text transform="translate(78.4,324.85) scale(0.9,1)" font-size="8.7" text-anchor="end" font-style="italic" stroke="#000">ATM</text>
<rect x="83.15" y="330.00" width="5.54" height="12.40" fill="#f0f0f0" />
<rect x="89.19" y="330.00" width="5.54" height="12.40" fill="#f0f0f0" />
<rect x="95.23" y="330.00" width="5.54" height="12.40" fill="#f0f0f0" />
<rect x="101.27" y="330.00" width="5.54" height="12.40" fill="#f0f0f0" />
<rect x="107.31" y="330.00" width="5.54" height="12.40" fill="#f0f0f0" />
<rect x="113.35" y="330.00" width="5.54" height="12.40" fill="#f0f0f0" />
<rect x="119.39" y="330.00" width="5.54" height="12.40" fill="#f0f0f0" />
<rect x="125.43" y="330.00" width="5.54" height="12.40" fill="#f0f0f0" />
<rect x="131.47" y="330.00" width="5.54" height="12.40" fill="#f0f0f0" />
<rect x="137.51" y="330.00" width="5.54" height="12.40" fill="#f0f0f0" />
<rect x="143.55" y="330.00" width="5.54" height="12.40" fill="#f0f0f0" />
<rect x="149.59" y="330.00" width="5.54" height="12.40" fill="#f0f0f0" />
<rect x="155.63" y="330.00" width="5.54" height="12.40" fill="#f0f0f0" />
<rect x="161.67" y="330.00" width="5.54" height="12.40" fill="#f0f0f0" />
<rect x="167.71" y="330.00" width="5.54" height="12.40" fill="#f0f0f0" />
<rect x="173.75" y="330.00" width="5.54" height="12.40" fill="#f0f0f0" />
<rect x="179.79" y="330.00" width="5.54" height="12.40" fill="#f0f0f0" />
<rect x="185.83" y="330.00" width="5.54" height="12.40" fill="#f0f0f0" />
<rect x="191.87" y="330.00" width="5.54" height="12.40" fill="#f0f0f0" />
<rect x="197.91" y="330.00" width="5.54" height="12.40" fill="#f0f0f0" />
<rect x="203.95" y="330.00" width="5.54" height="12.40" fill="#f0f0f0" />
<rect x="209.99" y="330.00" width="5.54" height="12.40" fill="#f0f0f0" />
<rect x="216.03" y="330.00" width="5.54" height="12.40" fill="#f0f0f0" />
<rect x="222.07" y="330.00" width="5.54" height="12.40" fill="#f0f0f0" />
<rect x="228.11" y="330.00" width="5.54" height="12.40" fill="#f0f0f0" />
<rect x="234.15" y="330.00" width="5.54" height="12.40" fill="#f0f0f0" />
<rect x="240.19" y="330.00" width="5.54" height="12.40" fill="#f0f0f0" />
<rect x="246.23" y="330.00" width="5.54" height="12.40" fill="#f0f0f0" />
<rect x="252.27" y="330.00" width="5.54" height="12.40" fill="#f0f0f0" />
<rect x="258.31" y="330.00" width="5.54" height="12.40" fill="#f0f0f0" />
<rect x="264.35" y="330.00" width="5.54" height="12.40" fill="#f0f0f0" />
<rect x="270.39" y="330.00" width="5.54" height="12.40" fill="#f0f0f0" />
<rect x="276.43" y="330.00" width="5.54" height="12.40" fill="#f0f0f0" />
<rect x="282.47" y="330.00" width="5.54" height="12.40" fill="#f0f0f0" />
<rect x="288.51" y="330.00" width="5.54" height="12.40" fill="#f0f0f0" />
<rect x="294.55" y="330.00" width="5.54" height="12.40" fill="#f0f0f0" />
<rect x="300.59" y="330.00" width="5.54" height="12.40" fill="#f0f0f0" />
<rect x="306.63" y="330.00" width="5.54" height="12.40" fill="#f0f0f0" />
<rect x="312.67" y="330.00" width="5.54" height="12.40" fill="#f0f0f0" />
<rect x="318.71" y="330.00" width="5.54" height="12.40" fill="#f0f0f0" />
<rect x="324.75" y="330.00" width="5.54" height="12.40" fill="#f0f0f0" />
<rect x="83.15" y="330.00" width="5.24" height="12.40" fill="#3f6ebf" />
<polygon points="85.51,330.00 88.39,330.00 87.24,332.40" fill="#fff"/>
<rect x="137.51" y="330.00" width="5.24" height="12.40" fill="#3f6ebf" />
<rect x="161.67" y="330.00" width="5.24" height="12.40" fill="#3f6ebf" />
<polygon points="164.03,330.00 166.91,330.00 165.76,332.40" fill="#fff"/>
<rect x="191.87" y="330.00" width="5.24" height="12.40" fill="#3f6ebf" />
<rect x="228.11" y="330.00" width="5.24" height="12.40" fill="#3f6ebf" />
<polygon points="230.47,330.00 233.35,330.00 232.20,332.40" fill="#fff"/>
<rect x="234.15" y="330.00" width="5.24" height="12.40" fill="#3f6ebf" />
<polygon points="236.51,330.00 239.39,330.00 238.24,332.40" fill="#fff"/>
<text transform="translate(78.4,338.00) scale(0.9,1)" font-size="8.7" text-anchor="end" font-style="italic" stroke="#000">SF3B1</text>
<rect x="83.15" y="343.15" width="5.54" height="12.40" fill="#f0f0f0" />
<rect x="89.19" y="343.15" width="5.54" height="12.40" fill="#f0f0f0" />
<rect x="95.23" y="343.15" width="5.54" height="12.40" fill="#f0f0f0" />
<rect x="101.27" y="343.15" width="5.54" height="12.40" fill="#f0f0f0" />
<rect x="107.31" y="343.15" width="5.54" height="12.40" fill="#f0f0f0" />
<rect x="113.35" y="343.15" width="5.54" height="12.40" fill="#f0f0f0" />
<rect x="119.39" y="343.15" width="5.54" height="12.40" fill="#f0f0f0" />
<rect x="125.43" y="343.15" width="5.54" height="12.40" fill="#f0f0f0" />
<rect x="131.47" y="343.15" width="5.54" height="12.40" fill="#f0f0f0" />
<rect x="137.51" y="343.15" width="5.54" height="12.40" fill="#f0f0f0" />
<rect x="143.55" y="343.15" width="5.54" height="12.40" fill="#f0f0f0" />
<rect x="149.59" y="343.15" width="5.54" height="12.40" fill="#f0f0f0" />
<rect x="155.63" y="343.15" width="5.54" height="12.40" fill="#f0f0f0" />
<rect x="161.67" y="343.15" width="5.54" height="12.40" fill="#f0f0f0" />
<rect x="167.71" y="343.15" width="5.54" height="12.40" fill="#f0f0f0" />
<rect x="173.75" y="343.15" width="5.54" height="12.40" fill="#f0f0f0" />
<rect x="179.79" y="343.15" width="5.54" height="12.40" fill="#f0f0f0" />
<rect x="185.83" y="343.15" width="5.54" height="12.40" fill="#f0f0f0" />
<rect x="191.87" y="343.15" width="5.54" height="12.40" fill="#f0f0f0" />
<rect x="197.91" y="343.15" width="5.54" height="12.40" fill="#f0f0f0" />
<rect x="203.95" y="343.15" width="5.54" height="12.40" fill="#f0f0f0" />
<rect x="209.99" y="343.15" width="5.54" height="12.40" fill="#f0f0f0" />
<rect x="216.03" y="343.15" width="5.54" height="12.40" fill="#f0f0f0" />
<rect x="222.07" y="343.15" width="5.54" height="12.40" fill="#f0f0f0" />
<rect x="228.11" y="343.15" width="5.54" height="12.40" fill="#f0f0f0" />
<rect x="234.15" y="343.15" width="5.54" height="12.40" fill="#f0f0f0" />
<rect x="240.19" y="343.15" width="5.54" height="12.40" fill="#f0f0f0" />
<rect x="246.23" y="343.15" width="5.54" height="12.40" fill="#f0f0f0" />
<rect x="252.27" y="343.15" width="5.54" height="12.40" fill="#f0f0f0" />
<rect x="258.31" y="343.15" width="5.54" height="12.40" fill="#f0f0f0" />
<rect x="264.35" y="343.15" width="5.54" height="12.40" fill="#f0f0f0" />
<rect x="270.39" y="343.15" width="5.54" height="12.40" fill="#f0f0f0" />
<rect x="276.43" y="343.15" width="5.54" height="12.40" fill="#f0f0f0" />
<rect x="282.47" y="343.15" width="5.54" height="12.40" fill="#f0f0f0" />
<rect x="288.51" y="343.15" width="5.54" height="12.40" fill="#f0f0f0" />
<rect x="294.55" y="343.15" width="5.54" height="12.40" fill="#f0f0f0" />
<rect x="300.59" y="343.15" width="5.54" height="12.40" fill="#f0f0f0" />
<rect x="306.63" y="343.15" width="5.54" height="12.40" fill="#f0f0f0" />
<rect x="312.67" y="343.15" width="5.54" height="12.40" fill="#f0f0f0" />
<rect x="318.71" y="343.15" width="5.54" height="12.40" fill="#f0f0f0" />
<rect x="324.75" y="343.15" width="5.54" height="12.40" fill="#f0f0f0" />
<rect x="95.23" y="343.15" width="5.24" height="12.40" fill="#9dc02e" />
<rect x="143.55" y="343.15" width="5.24" height="12.40" fill="#3f6ebf" />
<rect x="197.91" y="343.15" width="5.24" height="12.40" fill="#9dc02e" />
<polygon points="200.27,343.15 203.15,343.15 202.00,345.55" fill="#fff"/>
<rect x="228.11" y="343.15" width="5.24" height="12.40" fill="#3f6ebf" />
<rect x="240.19" y="343.15" width="5.24" height="12.40" fill="#9dc02e" />
<text transform="translate(78.4,351.15) scale(0.9,1)" font-size="8.7" text-anchor="end" font-style="italic" stroke="#000">MGA</text>
<rect x="83.15" y="356.30" width="5.54" height="12.40" fill="#f0f0f0" />
<rect x="89.19" y="356.30" width="5.54" height="12.40" fill="#f0f0f0" />
<rect x="95.23" y="356.30" width="5.54" height="12.40" fill="#f0f0f0" />
<rect x="101.27" y="356.30" width="5.54" height="12.40" fill="#f0f0f0" />
<rect x="107.31" y="356.30" width="5.54" height="12.40" fill="#f0f0f0" />
<rect x="113.35" y="356.30" width="5.54" height="12.40" fill="#f0f0f0" />
<rect x="119.39" y="356.30" width="5.54" height="12.40" fill="#f0f0f0" />
<rect x="125.43" y="356.30" width="5.54" height="12.40" fill="#f0f0f0" />
<rect x="131.47" y="356.30" width="5.54" height="12.40" fill="#f0f0f0" />
<rect x="137.51" y="356.30" width="5.54" height="12.40" fill="#f0f0f0" />
<rect x="143.55" y="356.30" width="5.54" height="12.40" fill="#f0f0f0" />
<rect x="149.59" y="356.30" width="5.54" height="12.40" fill="#f0f0f0" />
<rect x="155.63" y="356.30" width="5.54" height="12.40" fill="#f0f0f0" />
<rect x="161.67" y="356.30" width="5.54" height="12.40" fill="#f0f0f0" />
<rect x="167.71" y="356.30" width="5.54" height="12.40" fill="#f0f0f0" />
<rect x="173.75" y="356.30" width="5.54" height="12.40" fill="#f0f0f0" />
<rect x="179.79" y="356.30" width="5.54" height="12.40" fill="#f0f0f0" />
<rect x="185.83" y="356.30" width="5.54" height="12.40" fill="#f0f0f0" />
<rect x="191.87" y="356.30" width="5.54" height="12.40" fill="#f0f0f0" />
<rect x="197.91" y="356.30" width="5.54" height="12.40" fill="#f0f0f0" />
<rect x="203.95" y="356.30" width="5.54" height="12.40" fill="#f0f0f0" />
<rect x="209.99" y="356.30" width="5.54" height="12.40" fill="#f0f0f0" />
<rect x="216.03" y="356.30" width="5.54" height="12.40" fill="#f0f0f0" />
<rect x="222.07" y="356.30" width="5.54" height="12.40" fill="#f0f0f0" />
<rect x="228.11" y="356.30" width="5.54" height="12.40" fill="#f0f0f0" />
<rect x="234.15" y="356.30" width="5.54" height="12.40" fill="#f0f0f0" />
<rect x="240.19" y="356.30" width="5.54" height="12.40" fill="#f0f0f0" />
<rect x="246.23" y="356.30" width="5.54" height="12.40" fill="#f0f0f0" />
<rect x="252.27" y="356.30" width="5.54" height="12.40" fill="#f0f0f0" />
<rect x="258.31" y="356.30" width="5.54" height="12.40" fill="#f0f0f0" />
<rect x="264.35" y="356.30" width="5.54" height="12.40" fill="#f0f0f0" />
<rect x="270.39" y="356.30" width="5.54" height="12.40" fill="#f0f0f0" />
<rect x="276.43" y="356.30" width="5.54" height="12.40" fill="#f0f0f0" />
<rect x="282.47" y="356.30" width="5.54" height="12.40" fill="#f0f0f0" />
<rect x="288.51" y="356.30" width="5.54" height="12.40" fill="#f0f0f0" />
<rect x="294.55" y="356.30" width="5.54" height="12.40" fill="#f0f0f0" />
<rect x="300.59" y="356.30" width="5.54" height="12.40" fill="#f0f0f0" />
<rect x="306.63" y="356.30" width="5.54" height="12.40" fill="#f0f0f0" />
<rect x="312.67" y="356.30" width="5.54" height="12.40" fill="#f0f0f0" />
<rect x="318.71" y="356.30" width="5.54" height="12.40" fill="#f0f0f0" />
<rect x="324.75" y="356.30" width="5.54" height="12.40" fill="#f0f0f0" />
<rect x="131.47" y="356.30" width="5.24" height="12.40" fill="#3f6ebf" />
<polygon points="133.83,356.30 136.71,356.30 135.56,358.70" fill="#fff"/>
<rect x="143.55" y="356.30" width="5.24" height="12.40" fill="#3f6ebf" />
<rect x="228.11" y="356.30" width="5.24" height="12.40" fill="#3f6ebf" />
<rect x="246.23" y="356.30" width="5.24" height="12.40" fill="#3f6ebf" />
<polygon points="248.59,356.30 251.47,356.30 250.32,358.70" fill="#fff"/>
<text transform="translate(78.4,364.30) scale(0.9,1)" font-size="8.7" text-anchor="end" font-style="italic" stroke="#000">EGR2</text>
<rect x="83.15" y="369.45" width="5.54" height="12.40" fill="#f0f0f0" />
<rect x="89.19" y="369.45" width="5.54" height="12.40" fill="#f0f0f0" />
<rect x="95.23" y="369.45" width="5.54" height="12.40" fill="#f0f0f0" />
<rect x="101.27" y="369.45" width="5.54" height="12.40" fill="#f0f0f0" />
<rect x="107.31" y="369.45" width="5.54" height="12.40" fill="#f0f0f0" />
<rect x="113.35" y="369.45" width="5.54" height="12.40" fill="#f0f0f0" />
<rect x="119.39" y="369.45" width="5.54" height="12.40" fill="#f0f0f0" />
<rect x="125.43" y="369.45" width="5.54" height="12.40" fill="#f0f0f0" />
<rect x="131.47" y="369.45" width="5.54" height="12.40" fill="#f0f0f0" />
<rect x="137.51" y="369.45" width="5.54" height="12.40" fill="#f0f0f0" />
<rect x="143.55" y="369.45" width="5.54" height="12.40" fill="#f0f0f0" />
<rect x="149.59" y="369.45" width="5.54" height="12.40" fill="#f0f0f0" />
<rect x="155.63" y="369.45" width="5.54" height="12.40" fill="#f0f0f0" />
<rect x="161.67" y="369.45" width="5.54" height="12.40" fill="#f0f0f0" />
<rect x="167.71" y="369.45" width="5.54" height="12.40" fill="#f0f0f0" />
<rect x="173.75" y="369.45" width="5.54" height="12.40" fill="#f0f0f0" />
<rect x="179.79" y="369.45" width="5.54" height="12.40" fill="#f0f0f0" />
<rect x="185.83" y="369.45" width="5.54" height="12.40" fill="#f0f0f0" />
<rect x="191.87" y="369.45" width="5.54" height="12.40" fill="#f0f0f0" />
<rect x="197.91" y="369.45" width="5.54" height="12.40" fill="#f0f0f0" />
<rect x="203.95" y="369.45" width="5.54" height="12.40" fill="#f0f0f0" />
<rect x="209.99" y="369.45" width="5.54" height="12.40" fill="#f0f0f0" />
<rect x="216.03" y="369.45" width="5.54" height="12.40" fill="#f0f0f0" />
<rect x="222.07" y="369.45" width="5.54" height="12.40" fill="#f0f0f0" />
<rect x="228.11" y="369.45" width="5.54" height="12.40" fill="#f0f0f0" />
<rect x="234.15" y="369.45" width="5.54" height="12.40" fill="#f0f0f0" />
<rect x="240.19" y="369.45" width="5.54" height="12.40" fill="#f0f0f0" />
<rect x="246.23" y="369.45" width="5.54" height="12.40" fill="#f0f0f0" />
<rect x="252.27" y="369.45" width="5.54" height="12.40" fill="#f0f0f0" />
<rect x="258.31" y="369.45" width="5.54" height="12.40" fill="#f0f0f0" />
<rect x="264.35" y="369.45" width="5.54" height="12.40" fill="#f0f0f0" />
<rect x="270.39" y="369.45" width="5.54" height="12.40" fill="#f0f0f0" />
<rect x="276.43" y="369.45" width="5.54" height="12.40" fill="#f0f0f0" />
<rect x="282.47" y="369.45" width="5.54" height="12.40" fill="#f0f0f0" />
<rect x="288.51" y="369.45" width="5.54" height="12.40" fill="#f0f0f0" />
<rect x="294.55" y="369.45" width="5.54" height="12.40" fill="#f0f0f0" />
<rect x="300.59" y="369.45" width="5.54" height="12.40" fill="#f0f0f0" />
<rect x="306.63" y="369.45" width="5.54" height="12.40" fill="#f0f0f0" />
<rect x="312.67" y="369.45" width="5.54" height="12.40" fill="#f0f0f0" />
<rect x="318.71" y="369.45" width="5.54" height="12.40" fill="#f0f0f0" />
<rect x="324.75" y="369.45" width="5.54" height="12.40" fill="#f0f0f0" />
<rect x="252.27" y="369.45" width="5.24" height="12.40" fill="#9dc02e" />
<polygon points="254.63,369.45 257.51,369.45 256.36,371.85" fill="#fff"/>
<rect x="258.31" y="369.45" width="5.24" height="12.40" fill="#9dc02e" />
<rect x="264.35" y="369.45" width="5.24" height="12.40" fill="#9dc02e" />
<text transform="translate(78.4,377.45) scale(0.9,1)" font-size="8.7" text-anchor="end" font-style="italic" stroke="#000">NFKBIE</text>
<rect x="83.15" y="382.60" width="5.54" height="12.40" fill="#f0f0f0" />
<rect x="89.19" y="382.60" width="5.54" height="12.40" fill="#f0f0f0" />
<rect x="95.23" y="382.60" width="5.54" height="12.40" fill="#f0f0f0" />
<rect x="101.27" y="382.60" width="5.54" height="12.40" fill="#f0f0f0" />
<rect x="107.31" y="382.60" width="5.54" height="12.40" fill="#f0f0f0" />
<rect x="113.35" y="382.60" width="5.54" height="12.40" fill="#f0f0f0" />
<rect x="119.39" y="382.60" width="5.54" height="12.40" fill="#f0f0f0" />
<rect x="125.43" y="382.60" width="5.54" height="12.40" fill="#f0f0f0" />
<rect x="131.47" y="382.60" width="5.54" height="12.40" fill="#f0f0f0" />
<rect x="137.51" y="382.60" width="5.54" height="12.40" fill="#f0f0f0" />
<rect x="143.55" y="382.60" width="5.54" height="12.40" fill="#f0f0f0" />
<rect x="149.59" y="382.60" width="5.54" height="12.40" fill="#f0f0f0" />
<rect x="155.63" y="382.60" width="5.54" height="12.40" fill="#f0f0f0" />
<rect x="161.67" y="382.60" width="5.54" height="12.40" fill="#f0f0f0" />
<rect x="167.71" y="382.60" width="5.54" height="12.40" fill="#f0f0f0" />
<rect x="173.75" y="382.60" width="5.54" height="12.40" fill="#f0f0f0" />
<rect x="179.79" y="382.60" width="5.54" height="12.40" fill="#f0f0f0" />
<rect x="185.83" y="382.60" width="5.54" height="12.40" fill="#f0f0f0" />
<rect x="191.87" y="382.60" width="5.54" height="12.40" fill="#f0f0f0" />
<rect x="197.91" y="382.60" width="5.54" height="12.40" fill="#f0f0f0" />
<rect x="203.95" y="382.60" width="5.54" height="12.40" fill="#f0f0f0" />
<rect x="209.99" y="382.60" width="5.54" height="12.40" fill="#f0f0f0" />
<rect x="216.03" y="382.60" width="5.54" height="12.40" fill="#f0f0f0" />
<rect x="222.07" y="382.60" width="5.54" height="12.40" fill="#f0f0f0" />
<rect x="228.11" y="382.60" width="5.54" height="12.40" fill="#f0f0f0" />
<rect x="234.15" y="382.60" width="5.54" height="12.40" fill="#f0f0f0" />
<rect x="240.19" y="382.60" width="5.54" height="12.40" fill="#f0f0f0" />
<rect x="246.23" y="382.60" width="5.54" height="12.40" fill="#f0f0f0" />
<rect x="252.27" y="382.60" width="5.54" height="12.40" fill="#f0f0f0" />
<rect x="258.31" y="382.60" width="5.54" height="12.40" fill="#f0f0f0" />
<rect x="264.35" y="382.60" width="5.54" height="12.40" fill="#f0f0f0" />
<rect x="270.39" y="382.60" width="5.54" height="12.40" fill="#f0f0f0" />
<rect x="276.43" y="382.60" width="5.54" height="12.40" fill="#f0f0f0" />
<rect x="282.47" y="382.60" width="5.54" height="12.40" fill="#f0f0f0" />
<rect x="288.51" y="382.60" width="5.54" height="12.40" fill="#f0f0f0" />
<rect x="294.55" y="382.60" width="5.54" height="12.40" fill="#f0f0f0" />
<rect x="300.59" y="382.60" width="5.54" height="12.40" fill="#f0f0f0" />
<rect x="306.63" y="382.60" width="5.54" height="12.40" fill="#f0f0f0" />
<rect x="312.67" y="382.60" width="5.54" height="12.40" fill="#f0f0f0" />
<rect x="318.71" y="382.60" width="5.54" height="12.40" fill="#f0f0f0" />
<rect x="324.75" y="382.60" width="5.54" height="12.40" fill="#f0f0f0" />
<rect x="113.35" y="382.60" width="5.24" height="12.40" fill="#3f6ebf" />
<rect x="270.39" y="382.60" width="5.24" height="12.40" fill="#9dc02e" />
<rect x="276.43" y="382.60" width="5.24" height="12.40" fill="#3f6ebf" />
<polygon points="278.79,382.60 281.67,382.60 280.52,385.00" fill="#fff"/>
<text transform="translate(78.4,390.60) scale(0.9,1)" font-size="8.7" text-anchor="end" font-style="italic" stroke="#000">BIRC3</text>
<rect x="83.15" y="406.00" width="5.54" height="12.60" fill="#f0f0f0" />
<rect x="89.19" y="406.00" width="5.54" height="12.60" fill="#f0f0f0" />
<rect x="95.23" y="406.00" width="5.54" height="12.60" fill="#f0f0f0" />
<rect x="101.27" y="406.00" width="5.54" height="12.60" fill="#f0f0f0" />
<rect x="107.31" y="406.00" width="5.54" height="12.60" fill="#f0f0f0" />
<rect x="113.35" y="406.00" width="5.54" height="12.60" fill="#f0f0f0" />
<rect x="119.39" y="406.00" width="5.54" height="12.60" fill="#f0f0f0" />
<rect x="125.43" y="406.00" width="5.54" height="12.60" fill="#f0f0f0" />
<rect x="131.47" y="406.00" width="5.54" height="12.60" fill="#f0f0f0" />
<rect x="137.51" y="406.00" width="5.54" height="12.60" fill="#f0f0f0" />
<rect x="143.55" y="406.00" width="5.54" height="12.60" fill="#f0f0f0" />
<rect x="149.59" y="406.00" width="5.54" height="12.60" fill="#f0f0f0" />
<rect x="155.63" y="406.00" width="5.54" height="12.60" fill="#f0f0f0" />
<rect x="161.67" y="406.00" width="5.54" height="12.60" fill="#f0f0f0" />
<rect x="167.71" y="406.00" width="5.54" height="12.60" fill="#f0f0f0" />
<rect x="173.75" y="406.00" width="5.54" height="12.60" fill="#f0f0f0" />
<rect x="179.79" y="406.00" width="5.54" height="12.60" fill="#f0f0f0" />
<rect x="185.83" y="406.00" width="5.54" height="12.60" fill="#f0f0f0" />
<rect x="191.87" y="406.00" width="5.54" height="12.60" fill="#f0f0f0" />
<rect x="197.91" y="406.00" width="5.54" height="12.60" fill="#f0f0f0" />
<rect x="203.95" y="406.00" width="5.54" height="12.60" fill="#f0f0f0" />
<rect x="209.99" y="406.00" width="5.54" height="12.60" fill="#f0f0f0" />
<rect x="216.03" y="406.00" width="5.54" height="12.60" fill="#f0f0f0" />
<rect x="222.07" y="406.00" width="5.54" height="12.60" fill="#f0f0f0" />
<rect x="228.11" y="406.00" width="5.54" height="12.60" fill="#f0f0f0" />
<rect x="234.15" y="406.00" width="5.54" height="12.60" fill="#f0f0f0" />
<rect x="240.19" y="406.00" width="5.54" height="12.60" fill="#f0f0f0" />
<rect x="246.23" y="406.00" width="5.54" height="12.60" fill="#f0f0f0" />
<rect x="252.27" y="406.00" width="5.54" height="12.60" fill="#f0f0f0" />
<rect x="258.31" y="406.00" width="5.54" height="12.60" fill="#f0f0f0" />
<rect x="264.35" y="406.00" width="5.54" height="12.60" fill="#f0f0f0" />
<rect x="270.39" y="406.00" width="5.54" height="12.60" fill="#f0f0f0" />
<rect x="276.43" y="406.00" width="5.54" height="12.60" fill="#f0f0f0" />
<rect x="282.47" y="406.00" width="5.54" height="12.60" fill="#f0f0f0" />
<rect x="288.51" y="406.00" width="5.54" height="12.60" fill="#f0f0f0" />
<rect x="294.55" y="406.00" width="5.54" height="12.60" fill="#f0f0f0" />
<rect x="300.59" y="406.00" width="5.54" height="12.60" fill="#f0f0f0" />
<rect x="306.63" y="406.00" width="5.54" height="12.60" fill="#f0f0f0" />
<rect x="312.67" y="406.00" width="5.54" height="12.60" fill="#f0f0f0" />
<rect x="318.71" y="406.00" width="5.54" height="12.60" fill="#f0f0f0" />
<rect x="324.75" y="406.00" width="5.54" height="12.60" fill="#f0f0f0" />
<rect x="101.27" y="406.00" width="5.24" height="12.60" fill="#7c7c7c" />
<rect x="161.67" y="406.00" width="5.24" height="12.60" fill="#7c7c7c" />
<polygon points="164.03,406.00 166.91,406.00 165.76,408.40" fill="#fff"/>
<rect x="179.79" y="406.00" width="5.24" height="12.60" fill="#7c7c7c" />
<text transform="translate(63.7,414.30) scale(0.93,1)" font-size="8.3" text-anchor="middle" stroke="#000">del(17p)</text>
<rect x="83.15" y="419.20" width="5.54" height="12.60" fill="#f0f0f0" />
<rect x="89.19" y="419.20" width="5.54" height="12.60" fill="#f0f0f0" />
<rect x="95.23" y="419.20" width="5.54" height="12.60" fill="#f0f0f0" />
<rect x="101.27" y="419.20" width="5.54" height="12.60" fill="#f0f0f0" />
<rect x="107.31" y="419.20" width="5.54" height="12.60" fill="#f0f0f0" />
<rect x="113.35" y="419.20" width="5.54" height="12.60" fill="#f0f0f0" />
<rect x="119.39" y="419.20" width="5.54" height="12.60" fill="#f0f0f0" />
<rect x="125.43" y="419.20" width="5.54" height="12.60" fill="#f0f0f0" />
<rect x="131.47" y="419.20" width="5.54" height="12.60" fill="#f0f0f0" />
<rect x="137.51" y="419.20" width="5.54" height="12.60" fill="#f0f0f0" />
<rect x="143.55" y="419.20" width="5.54" height="12.60" fill="#f0f0f0" />
<rect x="149.59" y="419.20" width="5.54" height="12.60" fill="#f0f0f0" />
<rect x="155.63" y="419.20" width="5.54" height="12.60" fill="#f0f0f0" />
<rect x="161.67" y="419.20" width="5.54" height="12.60" fill="#f0f0f0" />
<rect x="167.71" y="419.20" width="5.54" height="12.60" fill="#f0f0f0" />
<rect x="173.75" y="419.20" width="5.54" height="12.60" fill="#f0f0f0" />
<rect x="179.79" y="419.20" width="5.54" height="12.60" fill="#f0f0f0" />
<rect x="185.83" y="419.20" width="5.54" height="12.60" fill="#f0f0f0" />
<rect x="191.87" y="419.20" width="5.54" height="12.60" fill="#f0f0f0" />
<rect x="197.91" y="419.20" width="5.54" height="12.60" fill="#f0f0f0" />
<rect x="203.95" y="419.20" width="5.54" height="12.60" fill="#f0f0f0" />
<rect x="209.99" y="419.20" width="5.54" height="12.60" fill="#f0f0f0" />
<rect x="216.03" y="419.20" width="5.54" height="12.60" fill="#f0f0f0" />
<rect x="222.07" y="419.20" width="5.54" height="12.60" fill="#f0f0f0" />
<rect x="228.11" y="419.20" width="5.54" height="12.60" fill="#f0f0f0" />
<rect x="234.15" y="419.20" width="5.54" height="12.60" fill="#f0f0f0" />
<rect x="240.19" y="419.20" width="5.54" height="12.60" fill="#f0f0f0" />
<rect x="246.23" y="419.20" width="5.54" height="12.60" fill="#f0f0f0" />
<rect x="252.27" y="419.20" width="5.54" height="12.60" fill="#f0f0f0" />
<rect x="258.31" y="419.20" width="5.54" height="12.60" fill="#f0f0f0" />
<rect x="264.35" y="419.20" width="5.54" height="12.60" fill="#f0f0f0" />
<rect x="270.39" y="419.20" width="5.54" height="12.60" fill="#f0f0f0" />
<rect x="276.43" y="419.20" width="5.54" height="12.60" fill="#f0f0f0" />
<rect x="282.47" y="419.20" width="5.54" height="12.60" fill="#f0f0f0" />
<rect x="288.51" y="419.20" width="5.54" height="12.60" fill="#f0f0f0" />
<rect x="294.55" y="419.20" width="5.54" height="12.60" fill="#f0f0f0" />
<rect x="300.59" y="419.20" width="5.54" height="12.60" fill="#f0f0f0" />
<rect x="306.63" y="419.20" width="5.54" height="12.60" fill="#f0f0f0" />
<rect x="312.67" y="419.20" width="5.54" height="12.60" fill="#f0f0f0" />
<rect x="318.71" y="419.20" width="5.54" height="12.60" fill="#f0f0f0" />
<rect x="324.75" y="419.20" width="5.54" height="12.60" fill="#f0f0f0" />
<rect x="113.35" y="419.20" width="5.24" height="12.60" fill="#7c7c7c" />
<rect x="119.39" y="419.20" width="5.24" height="12.60" fill="#7c7c7c" />
<rect x="125.43" y="419.20" width="5.24" height="12.60" fill="#7c7c7c" />
<rect x="137.51" y="419.20" width="5.24" height="12.60" fill="#7c7c7c" />
<polygon points="139.87,419.20 142.75,419.20 141.60,421.60" fill="#fff"/>
<rect x="143.55" y="419.20" width="5.24" height="12.60" fill="#7c7c7c" />
<rect x="155.63" y="419.20" width="5.24" height="12.60" fill="#7c7c7c" />
<rect x="161.67" y="419.20" width="5.24" height="12.60" fill="#7c7c7c" />
<rect x="191.87" y="419.20" width="5.24" height="12.60" fill="#7c7c7c" />
<rect x="197.91" y="419.20" width="5.24" height="12.60" fill="#7c7c7c" />
<rect x="203.95" y="419.20" width="5.24" height="12.60" fill="#7c7c7c" />
<rect x="270.39" y="419.20" width="5.24" height="12.60" fill="#7c7c7c" />
<rect x="276.43" y="419.20" width="5.24" height="12.60" fill="#7c7c7c" />
<rect x="282.47" y="419.20" width="5.24" height="12.60" fill="#7c7c7c" />
<rect x="288.51" y="419.20" width="5.24" height="12.60" fill="#7c7c7c" />
<rect x="324.75" y="419.20" width="5.24" height="12.60" fill="#7c7c7c" />
<text transform="translate(63.7,427.50) scale(0.93,1)" font-size="8.3" text-anchor="middle" stroke="#000">del(11q)</text>
<rect x="83.15" y="432.40" width="5.54" height="12.60" fill="#f0f0f0" />
<rect x="89.19" y="432.40" width="5.54" height="12.60" fill="#f0f0f0" />
<rect x="95.23" y="432.40" width="5.54" height="12.60" fill="#f0f0f0" />
<rect x="101.27" y="432.40" width="5.54" height="12.60" fill="#f0f0f0" />
<rect x="107.31" y="432.40" width="5.54" height="12.60" fill="#f0f0f0" />
<rect x="113.35" y="432.40" width="5.54" height="12.60" fill="#f0f0f0" />
<rect x="119.39" y="432.40" width="5.54" height="12.60" fill="#f0f0f0" />
<rect x="125.43" y="432.40" width="5.54" height="12.60" fill="#f0f0f0" />
<rect x="131.47" y="432.40" width="5.54" height="12.60" fill="#f0f0f0" />
<rect x="137.51" y="432.40" width="5.54" height="12.60" fill="#f0f0f0" />
<rect x="143.55" y="432.40" width="5.54" height="12.60" fill="#f0f0f0" />
<rect x="149.59" y="432.40" width="5.54" height="12.60" fill="#f0f0f0" />
<rect x="155.63" y="432.40" width="5.54" height="12.60" fill="#f0f0f0" />
<rect x="161.67" y="432.40" width="5.54" height="12.60" fill="#f0f0f0" />
<rect x="167.71" y="432.40" width="5.54" height="12.60" fill="#f0f0f0" />
<rect x="173.75" y="432.40" width="5.54" height="12.60" fill="#f0f0f0" />
<rect x="179.79" y="432.40" width="5.54" height="12.60" fill="#f0f0f0" />
<rect x="185.83" y="432.40" width="5.54" height="12.60" fill="#f0f0f0" />
<rect x="191.87" y="432.40" width="5.54" height="12.60" fill="#f0f0f0" />
<rect x="197.91" y="432.40" width="5.54" height="12.60" fill="#f0f0f0" />
<rect x="203.95" y="432.40" width="5.54" height="12.60" fill="#f0f0f0" />
<rect x="209.99" y="432.40" width="5.54" height="12.60" fill="#f0f0f0" />
<rect x="216.03" y="432.40" width="5.54" height="12.60" fill="#f0f0f0" />
<rect x="222.07" y="432.40" width="5.54" height="12.60" fill="#f0f0f0" />
<rect x="228.11" y="432.40" width="5.54" height="12.60" fill="#f0f0f0" />
<rect x="234.15" y="432.40" width="5.54" height="12.60" fill="#f0f0f0" />
<rect x="240.19" y="432.40" width="5.54" height="12.60" fill="#f0f0f0" />
<rect x="246.23" y="432.40" width="5.54" height="12.60" fill="#f0f0f0" />
<rect x="252.27" y="432.40" width="5.54" height="12.60" fill="#f0f0f0" />
<rect x="258.31" y="432.40" width="5.54" height="12.60" fill="#f0f0f0" />
<rect x="264.35" y="432.40" width="5.54" height="12.60" fill="#f0f0f0" />
<rect x="270.39" y="432.40" width="5.54" height="12.60" fill="#f0f0f0" />
<rect x="276.43" y="432.40" width="5.54" height="12.60" fill="#f0f0f0" />
<rect x="282.47" y="432.40" width="5.54" height="12.60" fill="#f0f0f0" />
<rect x="288.51" y="432.40" width="5.54" height="12.60" fill="#f0f0f0" />
<rect x="294.55" y="432.40" width="5.54" height="12.60" fill="#f0f0f0" />
<rect x="300.59" y="432.40" width="5.54" height="12.60" fill="#f0f0f0" />
<rect x="306.63" y="432.40" width="5.54" height="12.60" fill="#f0f0f0" />
<rect x="312.67" y="432.40" width="5.54" height="12.60" fill="#f0f0f0" />
<rect x="318.71" y="432.40" width="5.54" height="12.60" fill="#f0f0f0" />
<rect x="324.75" y="432.40" width="5.54" height="12.60" fill="#f0f0f0" />
<rect x="173.75" y="432.40" width="5.24" height="12.60" fill="#7c7c7c" />
<polygon points="176.11,432.40 178.99,432.40 177.84,434.80" fill="#fff"/>
<rect x="240.19" y="432.40" width="5.24" height="12.60" fill="#7c7c7c" />
<rect x="258.31" y="432.40" width="5.24" height="12.60" fill="#7c7c7c" />
<rect x="294.55" y="432.40" width="5.24" height="12.60" fill="#7c7c7c" />
<text transform="translate(63.7,440.70) scale(0.93,1)" font-size="8.3" text-anchor="middle" stroke="#000">+12</text>
<rect x="83.15" y="445.60" width="5.54" height="12.60" fill="#f0f0f0" />
<rect x="89.19" y="445.60" width="5.54" height="12.60" fill="#f0f0f0" />
<rect x="95.23" y="445.60" width="5.54" height="12.60" fill="#f0f0f0" />
<rect x="101.27" y="445.60" width="5.54" height="12.60" fill="#f0f0f0" />
<rect x="107.31" y="445.60" width="5.54" height="12.60" fill="#f0f0f0" />
<rect x="113.35" y="445.60" width="5.54" height="12.60" fill="#f0f0f0" />
<rect x="119.39" y="445.60" width="5.54" height="12.60" fill="#f0f0f0" />
<rect x="125.43" y="445.60" width="5.54" height="12.60" fill="#f0f0f0" />
<rect x="131.47" y="445.60" width="5.54" height="12.60" fill="#f0f0f0" />
<rect x="137.51" y="445.60" width="5.54" height="12.60" fill="#f0f0f0" />
<rect x="143.55" y="445.60" width="5.54" height="12.60" fill="#f0f0f0" />
<rect x="149.59" y="445.60" width="5.54" height="12.60" fill="#f0f0f0" />
<rect x="155.63" y="445.60" width="5.54" height="12.60" fill="#f0f0f0" />
<rect x="161.67" y="445.60" width="5.54" height="12.60" fill="#f0f0f0" />
<rect x="167.71" y="445.60" width="5.54" height="12.60" fill="#f0f0f0" />
<rect x="173.75" y="445.60" width="5.54" height="12.60" fill="#f0f0f0" />
<rect x="179.79" y="445.60" width="5.54" height="12.60" fill="#f0f0f0" />
<rect x="185.83" y="445.60" width="5.54" height="12.60" fill="#f0f0f0" />
<rect x="191.87" y="445.60" width="5.54" height="12.60" fill="#f0f0f0" />
<rect x="197.91" y="445.60" width="5.54" height="12.60" fill="#f0f0f0" />
<rect x="203.95" y="445.60" width="5.54" height="12.60" fill="#f0f0f0" />
<rect x="209.99" y="445.60" width="5.54" height="12.60" fill="#f0f0f0" />
<rect x="216.03" y="445.60" width="5.54" height="12.60" fill="#f0f0f0" />
<rect x="222.07" y="445.60" width="5.54" height="12.60" fill="#f0f0f0" />
<rect x="228.11" y="445.60" width="5.54" height="12.60" fill="#f0f0f0" />
<rect x="234.15" y="445.60" width="5.54" height="12.60" fill="#f0f0f0" />
<rect x="240.19" y="445.60" width="5.54" height="12.60" fill="#f0f0f0" />
<rect x="246.23" y="445.60" width="5.54" height="12.60" fill="#f0f0f0" />
<rect x="252.27" y="445.60" width="5.54" height="12.60" fill="#f0f0f0" />
<rect x="258.31" y="445.60" width="5.54" height="12.60" fill="#f0f0f0" />
<rect x="264.35" y="445.60" width="5.54" height="12.60" fill="#f0f0f0" />
<rect x="270.39" y="445.60" width="5.54" height="12.60" fill="#f0f0f0" />
<rect x="276.43" y="445.60" width="5.54" height="12.60" fill="#f0f0f0" />
<rect x="282.47" y="445.60" width="5.54" height="12.60" fill="#f0f0f0" />
<rect x="288.51" y="445.60" width="5.54" height="12.60" fill="#f0f0f0" />
<rect x="294.55" y="445.60" width="5.54" height="12.60" fill="#f0f0f0" />
<rect x="300.59" y="445.60" width="5.54" height="12.60" fill="#f0f0f0" />
<rect x="306.63" y="445.60" width="5.54" height="12.60" fill="#f0f0f0" />
<rect x="312.67" y="445.60" width="5.54" height="12.60" fill="#f0f0f0" />
<rect x="318.71" y="445.60" width="5.54" height="12.60" fill="#f0f0f0" />
<rect x="324.75" y="445.60" width="5.54" height="12.60" fill="#f0f0f0" />
<rect x="101.27" y="445.60" width="5.24" height="12.60" fill="#7c7c7c" />
<rect x="107.31" y="445.60" width="5.24" height="12.60" fill="#7c7c7c" />
<rect x="119.39" y="445.60" width="5.24" height="12.60" fill="#7c7c7c" />
<rect x="131.47" y="445.60" width="5.24" height="12.60" fill="#7c7c7c" />
<rect x="143.55" y="445.60" width="5.24" height="12.60" fill="#7c7c7c" />
<rect x="155.63" y="445.60" width="5.24" height="12.60" fill="#7c7c7c" />
<rect x="167.71" y="445.60" width="5.24" height="12.60" fill="#7c7c7c" />
<rect x="173.75" y="445.60" width="5.24" height="12.60" fill="#7c7c7c" />
<polygon points="176.11,445.60 178.99,445.60 177.84,448.00" fill="#fff"/>
<rect x="179.79" y="445.60" width="5.24" height="12.60" fill="#7c7c7c" />
<polygon points="182.15,445.60 185.03,445.60 183.88,448.00" fill="#fff"/>
<rect x="185.83" y="445.60" width="5.24" height="12.60" fill="#7c7c7c" />
<rect x="191.87" y="445.60" width="5.24" height="12.60" fill="#7c7c7c" />
<rect x="203.95" y="445.60" width="5.24" height="12.60" fill="#7c7c7c" />
<rect x="234.15" y="445.60" width="5.24" height="12.60" fill="#7c7c7c" />
<rect x="246.23" y="445.60" width="5.24" height="12.60" fill="#7c7c7c" />
<rect x="282.47" y="445.60" width="5.24" height="12.60" fill="#7c7c7c" />
<rect x="300.59" y="445.60" width="5.24" height="12.60" fill="#7c7c7c" />
<rect x="306.63" y="445.60" width="5.24" height="12.60" fill="#7c7c7c" />
<text transform="translate(63.7,453.90) scale(0.93,1)" font-size="8.3" text-anchor="middle" stroke="#000">del(13q)</text>
<rect x="331.20" y="278.20" width="42.38" height="4.90" fill="#4a80bb" />
<rect x="331.20" y="283.10" width="48.88" height="4.90" fill="#ac3a50" />
<rect x="331.20" y="291.50" width="48.88" height="4.90" fill="#4a80bb" />
<rect x="331.20" y="296.40" width="48.88" height="4.90" fill="#ac3a50" />
<rect x="331.20" y="304.80" width="29.64" height="4.90" fill="#4a80bb" />
<rect x="331.20" y="309.70" width="48.88" height="4.90" fill="#ac3a50" />
<rect x="331.20" y="318.10" width="29.64" height="4.90" fill="#4a80bb" />
<rect x="331.20" y="323.00" width="42.38" height="4.90" fill="#ac3a50" />
<rect x="331.20" y="331.40" width="29.64" height="4.90" fill="#4a80bb" />
<rect x="331.20" y="336.30" width="36.40" height="4.90" fill="#ac3a50" />
<rect x="331.20" y="344.70" width="29.64" height="4.90" fill="#4a80bb" />
<rect x="331.20" y="349.60" width="29.64" height="4.90" fill="#ac3a50" />
<rect x="331.20" y="358.00" width="5.98" height="4.90" fill="#4a80bb" />
<rect x="331.20" y="362.90" width="24.44" height="4.90" fill="#ac3a50" />
<rect x="331.20" y="371.30" width="12.22" height="4.90" fill="#4a80bb" />
<rect x="331.20" y="376.20" width="18.20" height="4.90" fill="#ac3a50" />
<rect x="331.20" y="384.60" width="12.22" height="4.90" fill="#4a80bb" />
<rect x="331.20" y="389.50" width="18.20" height="4.90" fill="#ac3a50" />
<line x1="331.20" y1="398.30" x2="383.50" y2="398.30" stroke="#888" stroke-width="0.7" />
<line x1="331.20" y1="398.30" x2="331.20" y2="399.60" stroke="#888" stroke-width="0.6" />
<line x1="344.20" y1="398.30" x2="344.20" y2="399.20" stroke="#888" stroke-width="0.6" />
<line x1="357.20" y1="398.30" x2="357.20" y2="399.60" stroke="#888" stroke-width="0.6" />
<line x1="370.20" y1="398.30" x2="370.20" y2="399.20" stroke="#888" stroke-width="0.6" />
<line x1="383.20" y1="398.30" x2="383.20" y2="399.60" stroke="#888" stroke-width="0.6" />
<text x="331.20" y="404.40" font-size="4.8" text-anchor="middle" font-weight="normal" font-style="normal" fill="#000" stroke="#000" >0</text>
<text x="357.20" y="404.40" font-size="4.8" text-anchor="middle" font-weight="normal" font-style="normal" fill="#000" stroke="#000" >10</text>
<text x="383.20" y="404.40" font-size="4.8" text-anchor="middle" font-weight="normal" font-style="normal" fill="#000" stroke="#000" >20</text>
<text x="355.30" y="411.40" font-size="6.0" text-anchor="middle" font-weight="normal" font-style="normal" fill="#000" stroke="#000" >% mutated</text>
<rect x="363.90" y="375.90" width="6.40" height="6.60" fill="#4a80bb" />
<text x="373.10" y="381.60" font-size="6.0" text-anchor="start" font-weight="normal" font-style="normal" fill="#000" stroke="#000" >Pre-treatment</text>
<rect x="363.90" y="387.70" width="6.40" height="6.00" fill="#ac3a50" />
<text x="373.10" y="393.00" font-size="6.0" text-anchor="start" font-weight="normal" font-style="normal" fill="#000" stroke="#000" >Relapse</text>
<rect x="83.60" y="465.00" width="5.40" height="5.40" fill="#3f6ebf" />
<text x="93.00" y="469.80" font-size="5.9" text-anchor="start" font-weight="normal" font-style="normal" fill="#000" stroke="#000" >Missense</text>
<rect x="123.00" y="465.00" width="6.00" height="5.40" fill="#9dc02e" />
<text x="132.80" y="469.80" font-size="5.9" text-anchor="start" font-weight="normal" font-style="normal" fill="#000" stroke="#000" >InDel</text>
<rect x="154.60" y="465.00" width="5.20" height="5.40" fill="#b5202c" />
<text x="163.80" y="469.80" font-size="5.9" text-anchor="start" font-weight="normal" font-style="normal" fill="#000" stroke="#000" >Nonsense</text>
<rect x="201.40" y="465.00" width="5.40" height="5.20" fill="#7c7c7c" />
<text x="210.00" y="469.80" font-size="5.9" text-anchor="start" font-weight="normal" font-style="normal" fill="#000" stroke="#000" >CNA</text>
<text x="227.40" y="469.80" font-size="5.0" text-anchor="start" font-weight="normal" font-style="normal" fill="#000" stroke="#000" >▲</text>
<text x="232.20" y="469.80" font-size="5.9" text-anchor="start" font-weight="normal" font-style="normal" fill="#000" stroke="#000" >UPD</text>
<text x="280.60" y="470.60" font-size="5.9" text-anchor="start" font-weight="normal" font-style="normal" fill="#000" stroke="#000" >*</text>
<text x="285.50" y="469.80" font-size="5.9" text-anchor="start" font-weight="normal" font-style="normal" fill="#000" stroke="#000" >Gained at relapse</text>
</svg></body></html>
